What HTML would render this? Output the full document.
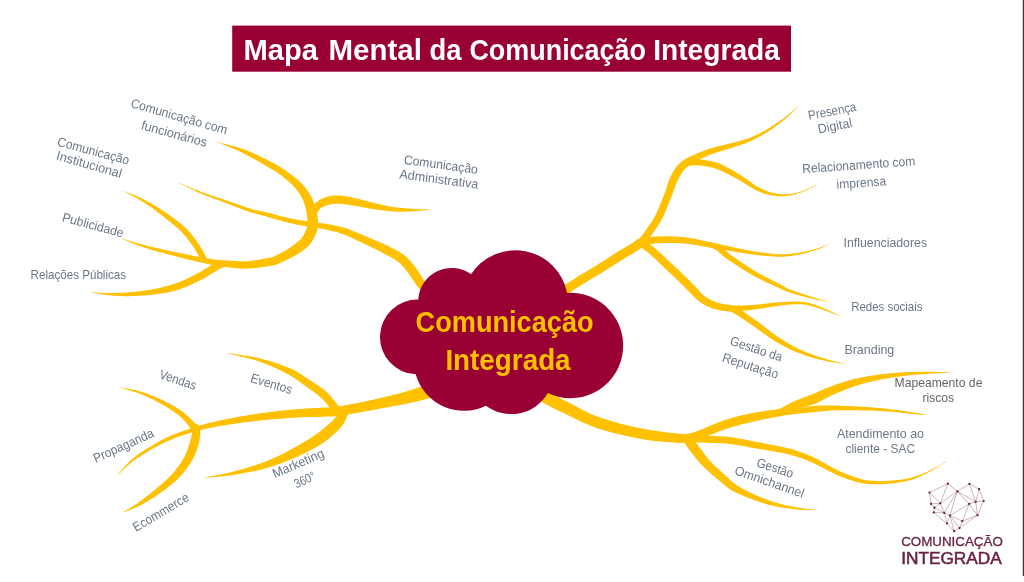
<!DOCTYPE html>
<html lang="pt-BR"><head><meta charset="utf-8"><title>Mapa Mental da Comunicação Integrada</title>
<style>html,body{margin:0;padding:0;background:#fff;overflow:hidden}body{width:1024px;height:582px;position:relative}svg{position:absolute;left:0;top:0;display:block}text{font-family:"Liberation Sans",sans-serif}</style></head><body>
<svg width="1024" height="582" viewBox="0 0 1024 582">
<rect width="1024" height="582" fill="#fff"/>
<g fill="#FFC000">
<path d="M442.8,296.5 L441.4,295.3 L439.9,294.1 L438.3,292.9 L436.8,291.7 L435.3,290.5 L433.8,289.3 L432.3,288.1 L430.9,286.9 L429.6,285.8 L428.3,284.8 L427.3,283.8 L426.3,283.0 L425.6,282.2 L424.9,281.5 L424.4,280.9 L424.0,280.4 L423.6,279.8 L423.3,279.3 L423.0,278.8 L422.6,278.2 L422.2,277.5 L421.7,276.7 L421.2,275.9 L420.6,275.0 L420.0,274.2 L419.4,273.4 L418.8,272.5 L418.2,271.5 L417.6,270.6 L416.9,269.6 L416.2,268.6 L415.5,267.6 L414.8,266.6 L414.1,265.6 L413.3,264.6 L412.5,263.7 L411.8,262.8 L411.1,262.0 L410.3,261.1 L409.6,260.3 L408.8,259.5 L408.0,258.6 L407.2,257.8 L406.3,257.0 L405.4,256.2 L404.4,255.3 L403.4,254.5 L402.3,253.7 L401.2,253.0 L399.9,252.2 L398.7,251.4 L397.4,250.7 L396.1,250.0 L394.8,249.3 L393.5,248.7 L392.2,248.0 L390.9,247.4 L389.8,246.8 L388.6,246.3 L387.6,245.8 L386.6,245.3 L385.6,244.8 L384.8,244.4 L383.9,244.0 L383.1,243.6 L382.3,243.3 L381.5,242.9 L380.7,242.6 L379.8,242.2 L378.9,241.8 L377.9,241.4 L376.9,241.0 L375.7,240.5 L374.5,240.0 L373.3,239.4 L371.9,238.9 L370.6,238.3 L369.2,237.7 L367.8,237.1 L366.4,236.6 L365.0,236.0 L363.6,235.4 L362.3,234.8 L360.9,234.3 L359.6,233.8 L358.3,233.2 L357.0,232.7 L355.7,232.1 L354.4,231.5 L353.1,231.0 L351.7,230.4 L350.4,229.9 L349.0,229.3 L347.7,228.8 L346.3,228.4 L344.9,227.9 L343.5,227.5 L342.1,227.1 L340.7,226.8 L339.3,226.4 L337.8,226.1 L336.4,225.8 L335.1,225.5 L333.7,225.3 L332.4,225.0 L331.1,224.8 L329.9,224.6 L328.8,224.4 L327.7,224.2 L326.8,224.0 L325.9,223.8 L325.1,223.7 L324.3,223.6 L323.5,223.5 L322.7,223.4 L321.9,223.3 L321.0,223.1 L320.0,223.0 L318.9,222.9 L317.7,222.7 L316.3,222.5 L314.8,222.3 L313.1,222.1 L311.4,221.8 L309.6,221.6 L307.8,221.4 L305.9,221.1 L304.1,220.9 L302.3,220.6 L300.5,220.4 L298.9,220.1 L297.3,219.8 L295.9,219.6 L294.5,219.3 L293.2,219.0 L291.9,218.8 L290.6,218.5 L289.4,218.2 L288.1,217.9 L286.9,217.6 L285.7,217.3 L284.4,217.0 L283.1,216.7 L281.9,216.4 L280.5,216.0 L279.3,215.7 L277.9,215.4 L276.6,215.0 L275.3,214.7 L274.0,214.3 L272.7,214.0 L271.4,213.6 L270.1,213.3 L268.7,212.9 L267.4,212.6 L266.1,212.3 L264.8,212.0 L263.5,211.7 L262.3,211.4 L261.1,211.2 L259.9,211.0 L258.8,210.7 L257.5,210.5 L256.3,210.2 L255.0,209.9 L253.6,209.5 L252.1,209.1 L250.5,208.7 L248.8,208.2 L247.0,207.6 L245.1,206.9 L243.1,206.3 L241.0,205.5 L238.9,204.8 L236.7,204.1 L234.6,203.3 L232.4,202.5 L230.2,201.8 L228.1,201.0 L225.9,200.3 L223.8,199.6 L221.7,198.8 L219.5,198.1 L217.3,197.4 L215.1,196.7 L212.9,195.9 L210.7,195.2 L208.5,194.5 L206.4,193.7 L204.3,193.0 L202.3,192.3 L200.3,191.6 L198.4,190.8 L196.6,190.1 L194.8,189.4 L193.0,188.7 L191.3,187.9 L189.6,187.2 L188.0,186.5 L186.3,185.8 L184.6,185.0 L183.0,184.3 L181.3,183.6 L179.6,182.9 L179.4,183.1 L181.1,184.0 L182.7,184.8 L184.4,185.6 L186.0,186.4 L187.6,187.3 L189.2,188.1 L190.9,188.9 L192.6,189.7 L194.3,190.6 L196.0,191.4 L197.8,192.2 L199.7,193.0 L201.6,193.9 L203.7,194.7 L205.7,195.5 L207.8,196.3 L210.0,197.1 L212.1,197.9 L214.3,198.7 L216.5,199.5 L218.7,200.3 L220.8,201.1 L223.0,201.9 L225.1,202.7 L227.1,203.5 L229.3,204.3 L231.4,205.2 L233.6,206.0 L235.7,206.8 L237.8,207.7 L239.9,208.5 L242.0,209.2 L244.0,210.0 L245.9,210.7 L247.7,211.3 L249.5,211.9 L251.1,212.5 L252.6,212.9 L254.1,213.3 L255.4,213.7 L256.7,214.0 L257.9,214.3 L259.1,214.6 L260.3,214.9 L261.5,215.2 L262.7,215.5 L263.9,215.8 L265.1,216.1 L266.4,216.5 L267.7,216.9 L269.0,217.2 L270.3,217.6 L271.6,218.0 L272.9,218.4 L274.2,218.8 L275.5,219.2 L276.8,219.5 L278.1,219.9 L279.4,220.3 L280.7,220.6 L282.0,221.0 L283.3,221.3 L284.5,221.7 L285.8,222.0 L287.0,222.3 L288.3,222.7 L289.5,223.0 L290.8,223.3 L292.2,223.6 L293.5,223.9 L295.0,224.2 L296.5,224.6 L298.0,224.9 L299.7,225.2 L301.5,225.5 L303.3,225.8 L305.2,226.1 L307.0,226.4 L308.9,226.6 L310.7,226.9 L312.4,227.2 L314.0,227.4 L315.5,227.7 L316.9,227.9 L318.1,228.1 L319.2,228.3 L320.2,228.5 L321.0,228.6 L321.8,228.8 L322.6,228.9 L323.3,229.1 L324.1,229.2 L324.8,229.4 L325.7,229.6 L326.6,229.8 L327.6,230.0 L328.7,230.3 L329.9,230.6 L331.2,230.9 L332.5,231.2 L333.8,231.5 L335.1,231.8 L336.4,232.1 L337.7,232.5 L339.1,232.9 L340.4,233.3 L341.6,233.7 L342.9,234.1 L344.1,234.5 L345.3,235.0 L346.6,235.5 L347.8,236.1 L349.1,236.6 L350.3,237.2 L351.6,237.8 L352.9,238.4 L354.1,239.1 L355.4,239.7 L356.7,240.3 L358.1,240.9 L359.4,241.5 L360.7,242.1 L362.1,242.8 L363.4,243.4 L364.8,244.0 L366.1,244.7 L367.5,245.3 L368.8,245.9 L370.0,246.5 L371.3,247.1 L372.4,247.7 L373.5,248.2 L374.6,248.7 L375.5,249.2 L376.4,249.6 L377.2,250.0 L378.0,250.4 L378.7,250.8 L379.5,251.2 L380.2,251.6 L381.0,252.0 L381.8,252.4 L382.7,252.9 L383.6,253.4 L384.7,254.0 L385.8,254.6 L387.0,255.2 L388.2,255.8 L389.4,256.5 L390.7,257.1 L391.9,257.8 L393.0,258.5 L394.2,259.1 L395.2,259.8 L396.2,260.4 L397.1,261.1 L397.9,261.7 L398.7,262.3 L399.5,263.0 L400.2,263.6 L400.9,264.3 L401.6,265.0 L402.3,265.7 L402.9,266.4 L403.6,267.1 L404.3,267.9 L405.0,268.7 L405.7,269.5 L406.3,270.3 L406.9,271.1 L407.6,271.9 L408.2,272.8 L408.8,273.7 L409.5,274.7 L410.1,275.6 L410.7,276.5 L411.4,277.5 L412.0,278.4 L412.6,279.3 L413.2,280.2 L413.7,280.9 L414.1,281.5 L414.5,282.1 L414.8,282.7 L415.2,283.4 L415.7,284.1 L416.2,284.9 L416.8,285.7 L417.4,286.6 L418.2,287.5 L419.1,288.4 L420.1,289.4 L421.2,290.5 L422.4,291.6 L423.8,292.7 L425.2,293.9 L426.6,295.1 L428.1,296.3 L429.7,297.5 L431.2,298.7 L432.8,300.0 L434.3,301.2 L435.7,302.3 L437.2,303.5Z"/>
<path d="M217.6,142.2 L219.2,142.9 L220.9,143.6 L222.7,144.3 L224.4,145.0 L226.1,145.7 L227.9,146.4 L229.6,147.1 L231.2,147.8 L232.8,148.4 L234.4,149.1 L235.8,149.7 L237.2,150.3 L238.4,150.9 L239.6,151.4 L240.6,151.9 L241.6,152.4 L242.5,152.8 L243.3,153.3 L244.2,153.7 L245.1,154.2 L246.0,154.7 L246.9,155.2 L247.9,155.7 L249.0,156.3 L250.2,156.9 L251.4,157.6 L252.6,158.3 L253.8,158.9 L255.1,159.6 L256.4,160.3 L257.7,161.1 L259.0,161.8 L260.3,162.6 L261.6,163.3 L262.9,164.1 L264.2,164.8 L265.5,165.6 L266.9,166.4 L268.2,167.2 L269.6,167.9 L270.9,168.7 L272.2,169.5 L273.6,170.3 L274.9,171.1 L276.2,172.0 L277.5,172.8 L278.8,173.7 L280.1,174.7 L281.4,175.6 L282.8,176.7 L284.1,177.8 L285.5,178.9 L286.9,180.0 L288.2,181.2 L289.5,182.3 L290.8,183.5 L292.0,184.6 L293.1,185.8 L294.2,186.9 L295.2,188.0 L296.1,189.0 L296.9,190.1 L297.7,191.2 L298.5,192.2 L299.2,193.3 L299.9,194.3 L300.5,195.4 L301.1,196.5 L301.7,197.5 L302.2,198.6 L302.8,199.7 L303.3,200.8 L303.7,201.8 L304.1,202.9 L304.5,204.0 L304.8,205.2 L305.2,206.3 L305.5,207.4 L305.7,208.6 L306.0,209.7 L306.2,210.9 L306.4,212.0 L306.6,213.1 L306.8,214.2 L307.0,215.2 L307.1,216.2 L307.2,217.2 L307.3,218.2 L307.4,219.2 L307.4,220.1 L307.4,221.1 L307.5,222.0 L307.5,222.9 L307.4,223.7 L307.4,224.5 L307.3,225.2 L307.2,225.9 L307.2,226.4 L307.0,226.9 L306.9,227.4 L306.8,227.9 L306.6,228.4 L306.5,228.9 L306.3,229.4 L306.0,229.9 L305.8,230.5 L305.5,231.1 L305.2,231.7 L304.9,232.4 L304.6,233.0 L304.3,233.6 L304.0,234.2 L303.7,234.8 L303.4,235.4 L303.0,235.9 L302.7,236.5 L302.3,237.0 L302.0,237.5 L301.6,238.1 L301.2,238.6 L300.7,239.0 L300.2,239.6 L299.7,240.1 L299.1,240.6 L298.5,241.2 L297.9,241.7 L297.2,242.3 L296.5,242.8 L295.8,243.4 L295.1,243.9 L294.4,244.5 L293.7,245.0 L293.0,245.5 L292.3,246.0 L291.6,246.5 L290.9,247.0 L290.2,247.5 L289.5,248.0 L288.8,248.5 L288.0,248.9 L287.3,249.4 L286.6,249.8 L285.9,250.3 L285.2,250.7 L284.6,251.1 L283.9,251.4 L283.3,251.8 L282.7,252.1 L282.0,252.5 L281.4,252.8 L280.8,253.1 L280.2,253.4 L279.6,253.7 L279.0,254.0 L278.4,254.3 L277.7,254.6 L277.0,254.9 L276.4,255.3 L275.8,255.6 L275.4,255.8 L275.0,256.0 L274.7,256.2 L274.4,256.4 L274.0,256.5 L273.5,256.7 L272.8,256.9 L272.0,257.2 L270.9,257.4 L269.5,257.7 L267.9,258.1 L266.1,258.4 L264.1,258.8 L262.0,259.1 L259.9,259.5 L257.7,259.9 L255.5,260.2 L253.4,260.5 L251.4,260.8 L249.6,261.0 L247.9,261.2 L246.5,261.3 L245.1,261.3 L243.8,261.4 L242.5,261.4 L241.3,261.3 L240.2,261.3 L239.0,261.2 L237.8,261.1 L236.6,261.0 L235.4,261.0 L234.2,260.9 L232.8,260.8 L231.5,260.8 L230.2,260.7 L228.9,260.6 L227.6,260.6 L226.3,260.5 L225.1,260.4 L223.8,260.4 L222.5,260.3 L221.2,260.2 L219.9,260.1 L218.6,260.0 L217.3,259.8 L216.0,259.7 L214.7,259.5 L213.5,259.4 L212.2,259.2 L210.9,259.0 L209.6,258.8 L208.3,258.6 L207.0,258.4 L205.7,258.2 L204.4,258.0 L203.1,257.8 L201.8,257.5 L200.5,257.3 L199.2,257.1 L197.9,256.8 L196.6,256.5 L195.3,256.2 L194.0,256.0 L192.7,255.7 L191.4,255.4 L190.0,255.1 L188.7,254.8 L187.4,254.5 L186.1,254.3 L184.8,254.0 L183.5,253.7 L182.3,253.5 L181.0,253.2 L179.8,253.0 L178.5,252.7 L177.2,252.5 L175.9,252.2 L174.6,251.9 L173.3,251.6 L171.9,251.4 L170.4,251.1 L168.9,250.7 L167.4,250.4 L165.7,250.0 L164.1,249.7 L162.4,249.3 L160.7,249.0 L159.0,248.6 L157.3,248.2 L155.6,247.8 L154.0,247.5 L152.5,247.1 L151.0,246.7 L149.5,246.4 L148.1,246.0 L146.7,245.7 L145.4,245.3 L144.1,245.0 L142.8,244.6 L141.5,244.3 L140.2,243.9 L139.0,243.6 L137.7,243.2 L136.5,242.9 L135.3,242.5 L134.0,242.2 L132.9,241.8 L131.7,241.5 L130.5,241.1 L129.4,240.8 L128.3,240.4 L127.2,240.1 L126.1,239.7 L124.9,239.3 L123.8,239.0 L122.7,238.6 L121.6,238.3 L121.4,238.5 L122.5,239.0 L123.6,239.5 L124.7,239.9 L125.8,240.4 L126.9,240.8 L128.0,241.3 L129.0,241.8 L130.1,242.2 L131.3,242.7 L132.4,243.1 L133.6,243.6 L134.7,244.1 L135.9,244.5 L137.2,245.0 L138.4,245.4 L139.6,245.9 L140.8,246.3 L142.1,246.8 L143.4,247.2 L144.7,247.7 L146.0,248.1 L147.4,248.6 L148.8,249.0 L150.2,249.5 L151.7,249.9 L153.3,250.4 L154.9,250.8 L156.5,251.3 L158.2,251.7 L159.9,252.2 L161.6,252.6 L163.3,253.1 L164.9,253.5 L166.5,253.9 L168.1,254.4 L169.6,254.7 L171.0,255.1 L172.4,255.5 L173.7,255.8 L175.0,256.2 L176.3,256.5 L177.6,256.8 L178.8,257.2 L180.0,257.5 L181.3,257.8 L182.5,258.1 L183.8,258.4 L185.1,258.7 L186.4,259.1 L187.7,259.4 L189.0,259.7 L190.3,260.0 L191.6,260.3 L192.9,260.6 L194.2,260.9 L195.5,261.3 L196.9,261.6 L198.2,261.9 L199.5,262.2 L200.8,262.5 L202.1,262.7 L203.4,263.0 L204.7,263.3 L206.0,263.6 L207.3,263.9 L208.6,264.2 L209.9,264.5 L211.2,264.8 L212.5,265.0 L213.8,265.3 L215.2,265.5 L216.5,265.8 L217.8,266.0 L219.1,266.2 L220.5,266.4 L221.8,266.6 L223.1,266.8 L224.4,266.9 L225.8,267.1 L227.1,267.3 L228.4,267.4 L229.7,267.5 L231.1,267.7 L232.4,267.8 L233.6,267.9 L234.8,268.0 L236.0,268.2 L237.2,268.3 L238.4,268.4 L239.7,268.5 L241.0,268.6 L242.3,268.7 L243.7,268.7 L245.2,268.7 L246.8,268.7 L248.5,268.6 L250.3,268.5 L252.3,268.3 L254.4,268.1 L256.5,267.9 L258.8,267.6 L261.0,267.3 L263.2,267.0 L265.4,266.7 L267.4,266.4 L269.3,266.1 L271.0,265.8 L272.5,265.6 L273.8,265.3 L275.0,265.0 L276.0,264.8 L276.9,264.5 L277.7,264.2 L278.4,263.8 L279.0,263.5 L279.6,263.3 L280.0,263.0 L280.4,262.8 L280.8,262.6 L281.3,262.4 L281.9,262.2 L282.6,261.9 L283.3,261.6 L283.9,261.3 L284.6,261.0 L285.3,260.7 L286.0,260.3 L286.7,260.0 L287.4,259.6 L288.1,259.3 L288.8,258.9 L289.6,258.5 L290.3,258.1 L291.1,257.7 L291.9,257.3 L292.7,256.9 L293.5,256.5 L294.3,256.0 L295.2,255.5 L296.0,255.1 L296.9,254.6 L297.7,254.1 L298.5,253.5 L299.3,253.0 L300.1,252.5 L300.9,251.9 L301.7,251.4 L302.5,250.8 L303.3,250.2 L304.1,249.6 L305.0,249.0 L305.8,248.3 L306.6,247.6 L307.3,246.9 L308.1,246.2 L308.8,245.4 L309.5,244.7 L310.2,243.9 L310.8,243.1 L311.3,242.3 L311.9,241.6 L312.4,240.8 L312.8,240.0 L313.3,239.2 L313.7,238.5 L314.1,237.7 L314.5,237.0 L314.8,236.3 L315.1,235.6 L315.4,234.9 L315.8,234.2 L316.1,233.5 L316.4,232.7 L316.7,231.9 L317.0,231.0 L317.2,230.1 L317.4,229.2 L317.6,228.2 L317.8,227.2 L317.9,226.2 L317.9,225.1 L318.0,224.1 L318.0,223.0 L318.0,221.8 L317.9,220.7 L317.9,219.5 L317.8,218.3 L317.6,217.1 L317.5,215.9 L317.3,214.7 L317.1,213.4 L316.8,212.2 L316.5,211.0 L316.2,209.8 L315.9,208.6 L315.5,207.3 L315.1,206.0 L314.7,204.7 L314.2,203.4 L313.7,202.1 L313.2,200.7 L312.6,199.4 L312.0,198.1 L311.3,196.8 L310.7,195.6 L310.0,194.4 L309.2,193.2 L308.5,192.0 L307.7,190.8 L306.9,189.6 L306.0,188.4 L305.0,187.3 L304.1,186.1 L303.0,184.9 L302.0,183.8 L300.8,182.6 L299.6,181.5 L298.3,180.3 L297.0,179.1 L295.6,177.9 L294.2,176.8 L292.7,175.7 L291.2,174.5 L289.7,173.4 L288.2,172.4 L286.8,171.3 L285.3,170.3 L283.9,169.3 L282.4,168.4 L281.0,167.5 L279.6,166.6 L278.1,165.8 L276.7,164.9 L275.3,164.1 L273.9,163.4 L272.5,162.6 L271.1,161.9 L269.7,161.2 L268.4,160.5 L267.0,159.8 L265.6,159.1 L264.2,158.4 L262.9,157.7 L261.5,157.0 L260.1,156.4 L258.7,155.7 L257.4,155.1 L256.0,154.5 L254.7,153.9 L253.4,153.3 L252.2,152.8 L251.0,152.3 L249.8,151.8 L248.8,151.3 L247.8,150.9 L246.8,150.5 L245.9,150.1 L244.9,149.8 L244.0,149.4 L243.0,149.1 L241.9,148.7 L240.8,148.3 L239.6,147.9 L238.2,147.5 L236.8,147.1 L235.2,146.6 L233.6,146.2 L231.9,145.7 L230.2,145.2 L228.4,144.8 L226.6,144.3 L224.8,143.8 L223.0,143.4 L221.2,142.9 L219.4,142.4 L217.6,142.0Z"/>
<path d="M316.2,215.5 L316.3,215.1 L316.5,214.8 L316.6,214.4 L316.8,214.1 L316.9,213.8 L317.0,213.5 L317.1,213.3 L317.2,213.0 L317.4,212.8 L317.5,212.5 L317.6,212.3 L317.9,212.0 L318.1,211.5 L318.4,211.1 L318.7,210.7 L318.9,210.3 L319.2,209.9 L319.4,209.6 L319.7,209.3 L319.9,209.0 L320.2,208.7 L320.4,208.5 L320.7,208.3 L321.1,208.0 L321.6,207.7 L322.1,207.4 L322.7,207.1 L323.4,206.8 L324.0,206.5 L324.7,206.1 L325.4,205.8 L326.2,205.6 L326.9,205.3 L327.7,205.1 L328.4,204.9 L329.2,204.7 L330.0,204.5 L330.8,204.3 L331.7,204.2 L332.5,204.1 L333.4,204.0 L334.3,203.9 L335.2,203.8 L336.2,203.8 L337.2,203.8 L338.2,203.8 L339.3,203.8 L340.5,203.8 L341.7,203.9 L343.1,204.1 L344.5,204.2 L346.0,204.5 L347.6,204.7 L349.2,204.9 L350.9,205.2 L352.5,205.5 L354.1,205.8 L355.7,206.1 L357.3,206.3 L358.8,206.6 L360.2,206.8 L361.6,207.0 L362.9,207.3 L364.2,207.5 L365.5,207.8 L366.8,208.0 L368.1,208.2 L369.4,208.5 L370.7,208.7 L372.0,208.9 L373.3,209.1 L374.6,209.3 L376.0,209.5 L377.3,209.7 L378.7,209.9 L380.1,210.1 L381.5,210.3 L382.9,210.5 L384.3,210.6 L385.6,210.8 L386.9,210.9 L388.1,211.1 L389.4,211.2 L390.5,211.3 L391.6,211.4 L392.5,211.5 L393.4,211.5 L394.3,211.6 L395.1,211.6 L395.9,211.7 L396.7,211.7 L397.5,211.7 L398.3,211.7 L399.2,211.7 L400.2,211.7 L401.2,211.7 L402.4,211.7 L403.6,211.7 L404.8,211.6 L406.2,211.6 L407.5,211.6 L408.9,211.5 L410.3,211.5 L411.7,211.4 L413.1,211.3 L414.4,211.2 L415.7,211.2 L417.0,211.0 L418.3,210.9 L419.5,210.8 L420.7,210.7 L421.8,210.5 L423.0,210.3 L424.2,210.2 L425.3,210.0 L426.4,209.8 L427.6,209.7 L428.7,209.5 L429.9,209.3 L431.0,209.1 L431.0,208.9 L429.8,208.9 L428.7,208.9 L427.5,209.0 L426.4,209.0 L425.2,209.1 L424.1,209.1 L422.9,209.1 L421.7,209.2 L420.6,209.2 L419.4,209.2 L418.2,209.2 L417.0,209.2 L415.7,209.1 L414.4,209.0 L413.1,208.9 L411.7,208.8 L410.3,208.7 L409.0,208.6 L407.6,208.5 L406.3,208.4 L405.0,208.2 L403.7,208.1 L402.5,208.0 L401.4,207.9 L400.3,207.8 L399.4,207.7 L398.5,207.6 L397.7,207.6 L396.9,207.5 L396.2,207.4 L395.4,207.4 L394.7,207.3 L393.9,207.2 L393.0,207.0 L392.1,206.9 L391.1,206.7 L390.0,206.5 L388.8,206.3 L387.6,206.1 L386.4,205.8 L385.1,205.5 L383.8,205.3 L382.4,205.0 L381.1,204.7 L379.7,204.4 L378.4,204.1 L377.1,203.8 L375.8,203.5 L374.5,203.1 L373.3,202.8 L372.0,202.5 L370.8,202.2 L369.5,201.8 L368.3,201.5 L367.0,201.1 L365.7,200.8 L364.4,200.4 L363.0,200.1 L361.6,199.8 L360.2,199.4 L358.8,199.1 L357.2,198.7 L355.7,198.3 L354.0,198.0 L352.4,197.6 L350.7,197.2 L349.0,196.8 L347.4,196.5 L345.7,196.2 L344.1,195.9 L342.6,195.7 L341.1,195.6 L339.7,195.5 L338.4,195.4 L337.1,195.4 L335.9,195.4 L334.7,195.5 L333.5,195.6 L332.4,195.7 L331.3,195.8 L330.3,196.0 L329.2,196.2 L328.2,196.5 L327.2,196.7 L326.2,197.0 L325.1,197.4 L324.1,197.7 L323.1,198.2 L322.2,198.6 L321.3,199.0 L320.4,199.5 L319.6,200.0 L318.8,200.5 L318.1,201.0 L317.4,201.5 L316.7,202.0 L316.0,202.5 L315.4,203.1 L314.8,203.7 L314.3,204.4 L313.8,205.0 L313.5,205.6 L313.1,206.1 L312.8,206.6 L312.6,207.1 L312.3,207.5 L312.1,207.9 L311.9,208.2 L311.7,208.7 L311.4,209.1 L311.2,209.5 L311.0,210.0 L310.8,210.4 L310.6,210.7 L310.5,211.1 L310.3,211.4 L310.2,211.7 L310.1,212.0 L310.0,212.2 L309.8,212.5Z"/>
<path d="M124.1,191.4 L125.2,192.0 L126.2,192.5 L127.2,193.1 L128.3,193.6 L129.3,194.1 L130.3,194.7 L131.4,195.2 L132.4,195.8 L133.4,196.3 L134.5,196.9 L135.5,197.5 L136.6,198.1 L137.7,198.7 L138.8,199.4 L139.9,200.0 L141.0,200.7 L142.1,201.4 L143.2,202.1 L144.3,202.8 L145.4,203.5 L146.5,204.2 L147.6,204.9 L148.7,205.6 L149.8,206.4 L150.8,207.1 L151.8,207.8 L152.9,208.6 L153.9,209.3 L154.9,210.1 L155.9,210.8 L156.9,211.6 L157.9,212.4 L158.9,213.1 L159.9,213.9 L160.8,214.6 L161.7,215.3 L162.6,216.0 L163.5,216.6 L164.3,217.3 L165.1,217.9 L165.9,218.5 L166.6,219.1 L167.4,219.8 L168.2,220.4 L168.9,221.0 L169.7,221.7 L170.5,222.3 L171.4,223.0 L172.3,223.8 L173.1,224.5 L174.1,225.3 L175.0,226.0 L175.9,226.8 L176.8,227.6 L177.7,228.3 L178.6,229.1 L179.5,229.9 L180.3,230.7 L181.1,231.5 L181.9,232.3 L182.7,233.2 L183.5,234.0 L184.3,234.9 L185.1,235.9 L185.8,236.8 L186.6,237.7 L187.3,238.7 L188.1,239.6 L188.8,240.6 L189.5,241.5 L190.1,242.4 L190.8,243.3 L191.4,244.1 L192.0,244.9 L192.6,245.8 L193.1,246.6 L193.6,247.3 L194.2,248.1 L194.7,248.9 L195.1,249.6 L195.6,250.4 L196.1,251.1 L196.5,251.8 L196.9,252.5 L197.3,253.2 L197.7,253.9 L198.1,254.6 L198.4,255.2 L198.8,255.9 L199.1,256.6 L199.5,257.2 L199.8,257.8 L200.1,258.4 L200.3,258.9 L200.6,259.5 L200.9,259.9 L201.1,260.3 L201.3,260.7 L201.5,261.0 L201.6,261.2 L201.7,261.5 L201.9,261.7 L202.0,261.8 L202.1,262.0 L202.2,262.1 L202.2,262.2 L202.3,262.4 L202.4,262.6 L207.6,259.4 L207.4,259.2 L207.3,259.0 L207.2,258.9 L207.1,258.7 L207.0,258.6 L206.9,258.5 L206.9,258.3 L206.8,258.2 L206.6,258.0 L206.5,257.7 L206.3,257.4 L206.1,257.1 L205.9,256.7 L205.7,256.2 L205.4,255.7 L205.1,255.1 L204.8,254.5 L204.5,253.8 L204.1,253.1 L203.7,252.4 L203.4,251.7 L202.9,251.0 L202.5,250.2 L202.1,249.5 L201.6,248.7 L201.2,248.0 L200.7,247.2 L200.2,246.4 L199.7,245.6 L199.2,244.8 L198.7,244.0 L198.1,243.2 L197.5,242.3 L196.9,241.5 L196.3,240.6 L195.6,239.7 L194.9,238.8 L194.2,237.9 L193.5,237.0 L192.8,236.0 L192.0,235.0 L191.2,234.0 L190.4,233.0 L189.6,232.1 L188.7,231.1 L187.8,230.1 L187.0,229.2 L186.1,228.3 L185.1,227.4 L184.2,226.5 L183.2,225.7 L182.3,224.9 L181.3,224.1 L180.3,223.3 L179.3,222.5 L178.3,221.8 L177.4,221.0 L176.4,220.3 L175.5,219.6 L174.6,219.0 L173.7,218.3 L172.9,217.7 L172.0,217.0 L171.2,216.4 L170.4,215.8 L169.5,215.3 L168.7,214.7 L167.9,214.1 L167.0,213.5 L166.1,212.9 L165.2,212.3 L164.3,211.7 L163.3,211.1 L162.3,210.4 L161.3,209.7 L160.3,209.1 L159.2,208.4 L158.1,207.7 L157.0,207.0 L155.9,206.3 L154.8,205.6 L153.7,205.0 L152.6,204.3 L151.4,203.6 L150.3,203.0 L149.2,202.4 L148.0,201.7 L146.8,201.1 L145.6,200.5 L144.4,199.9 L143.3,199.3 L142.1,198.7 L140.9,198.1 L139.7,197.6 L138.6,197.0 L137.4,196.5 L136.3,196.0 L135.2,195.5 L134.1,195.0 L133.0,194.6 L131.9,194.1 L130.8,193.7 L129.7,193.3 L128.6,192.9 L127.5,192.5 L126.4,192.0 L125.4,191.6 L124.3,191.2Z"/>
<path d="M223.6,260.5 L223.5,260.5 L223.5,260.5 L223.5,260.5 L223.3,260.5 L223.0,260.4 L222.5,260.4 L222.0,260.4 L221.3,260.5 L220.6,260.6 L219.9,260.8 L219.2,261.0 L218.5,261.3 L217.7,261.7 L216.8,262.1 L215.9,262.6 L214.9,263.2 L213.9,263.7 L212.9,264.3 L211.9,264.9 L210.8,265.5 L209.8,266.1 L208.9,266.7 L208.0,267.2 L207.2,267.7 L206.4,268.1 L205.7,268.6 L205.1,268.9 L204.5,269.3 L204.0,269.7 L203.5,270.0 L202.9,270.3 L202.4,270.7 L201.8,271.0 L201.2,271.4 L200.4,271.8 L199.6,272.3 L198.5,272.8 L197.4,273.4 L196.2,274.1 L195.0,274.7 L193.7,275.4 L192.3,276.1 L191.0,276.8 L189.6,277.5 L188.2,278.2 L186.8,278.8 L185.5,279.4 L184.2,280.0 L183.0,280.5 L181.7,281.0 L180.5,281.5 L179.3,282.0 L178.1,282.5 L176.9,282.9 L175.7,283.3 L174.4,283.8 L173.2,284.2 L171.9,284.6 L170.5,285.0 L169.2,285.4 L167.7,285.8 L166.3,286.2 L164.9,286.6 L163.4,287.0 L161.9,287.4 L160.3,287.7 L158.8,288.1 L157.1,288.4 L155.5,288.8 L153.8,289.1 L152.1,289.4 L150.3,289.7 L148.4,290.0 L146.4,290.3 L144.4,290.6 L142.3,290.9 L140.1,291.2 L137.9,291.4 L135.8,291.7 L133.6,291.9 L131.5,292.1 L129.4,292.3 L127.4,292.5 L125.4,292.6 L123.6,292.7 L121.7,292.8 L119.9,292.9 L118.1,292.9 L116.3,293.0 L114.6,293.0 L112.9,293.0 L111.2,293.0 L109.6,293.0 L108.0,292.9 L106.5,292.9 L105.1,292.9 L103.7,292.9 L102.4,292.8 L101.2,292.8 L100.1,292.7 L99.0,292.6 L97.9,292.6 L96.9,292.5 L95.9,292.4 L94.8,292.3 L93.8,292.2 L92.7,292.1 L91.6,292.1 L91.6,292.3 L92.7,292.5 L93.7,292.7 L94.7,293.0 L95.7,293.2 L96.8,293.4 L97.8,293.6 L98.8,293.8 L99.9,294.0 L101.1,294.2 L102.3,294.4 L103.6,294.5 L104.9,294.7 L106.4,294.9 L107.9,295.0 L109.5,295.2 L111.1,295.4 L112.7,295.5 L114.5,295.7 L116.2,295.8 L118.0,295.9 L119.9,296.0 L121.7,296.1 L123.6,296.2 L125.6,296.2 L127.5,296.2 L129.6,296.2 L131.7,296.1 L133.9,296.0 L136.1,295.9 L138.3,295.8 L140.5,295.7 L142.7,295.6 L144.9,295.4 L147.0,295.2 L149.0,295.1 L150.9,294.9 L152.8,294.7 L154.6,294.5 L156.4,294.3 L158.1,294.1 L159.8,293.8 L161.5,293.6 L163.1,293.3 L164.7,293.1 L166.2,292.8 L167.8,292.5 L169.3,292.1 L170.8,291.8 L172.3,291.4 L173.8,291.1 L175.2,290.7 L176.5,290.2 L177.9,289.8 L179.2,289.4 L180.5,288.9 L181.8,288.4 L183.0,288.0 L184.3,287.5 L185.6,287.0 L187.0,286.4 L188.3,285.9 L189.8,285.3 L191.2,284.6 L192.7,284.0 L194.1,283.3 L195.5,282.6 L197.0,281.9 L198.3,281.3 L199.6,280.6 L200.8,280.0 L202.0,279.5 L203.0,278.9 L204.0,278.4 L204.9,277.9 L205.6,277.5 L206.3,277.1 L207.0,276.7 L207.5,276.3 L208.1,276.0 L208.6,275.6 L209.1,275.3 L209.7,274.9 L210.3,274.5 L211.0,274.1 L211.8,273.6 L212.7,273.1 L213.7,272.5 L214.7,271.9 L215.7,271.3 L216.7,270.7 L217.6,270.1 L218.6,269.5 L219.5,269.0 L220.3,268.5 L221.0,268.1 L221.5,267.9 L221.9,267.7 L222.2,267.6 L222.3,267.5 L222.4,267.5 L222.4,267.5 L222.3,267.5 L222.4,267.5 L222.5,267.5 L222.8,267.5 L223.3,267.5 L223.9,267.5 L224.4,267.5Z"/>
<path d="M558.4,299.8 L560.4,298.5 L562.5,297.2 L564.5,295.9 L566.6,294.5 L568.6,293.2 L570.7,291.9 L572.7,290.6 L574.7,289.3 L576.7,288.0 L578.6,286.8 L580.5,285.6 L582.4,284.4 L584.2,283.3 L585.9,282.2 L587.6,281.2 L589.3,280.2 L590.9,279.2 L592.6,278.2 L594.2,277.3 L595.8,276.3 L597.4,275.3 L599.0,274.4 L600.7,273.4 L602.4,272.3 L604.1,271.3 L605.8,270.2 L607.6,269.1 L609.4,267.9 L611.2,266.8 L612.9,265.7 L614.7,264.6 L616.4,263.5 L618.0,262.5 L619.6,261.5 L621.0,260.6 L622.4,259.7 L623.7,258.9 L624.9,258.2 L626.1,257.5 L627.2,256.8 L628.2,256.2 L629.2,255.6 L630.2,255.1 L631.2,254.5 L632.1,253.9 L633.1,253.4 L634.0,252.8 L634.9,252.2 L635.9,251.6 L636.8,251.0 L637.7,250.5 L638.6,249.9 L639.4,249.3 L640.3,248.8 L641.1,248.2 L641.9,247.7 L642.7,247.1 L643.4,246.6 L644.1,246.1 L644.7,245.6 L645.3,245.1 L645.9,244.6 L646.4,244.1 L646.8,243.6 L647.2,243.1 L647.5,242.7 L647.8,242.3 L648.0,242.0 L648.3,241.7 L648.4,241.4 L648.6,241.1 L648.9,240.8 L643.1,235.2 L642.7,235.6 L642.4,235.9 L642.0,236.2 L641.7,236.5 L641.4,236.8 L641.2,237.0 L640.9,237.2 L640.7,237.4 L640.4,237.6 L640.1,237.8 L639.7,238.1 L639.3,238.4 L638.7,238.8 L638.1,239.2 L637.5,239.6 L636.8,240.1 L636.0,240.6 L635.3,241.1 L634.5,241.6 L633.6,242.2 L632.7,242.7 L631.9,243.3 L631.0,243.8 L630.1,244.4 L629.2,244.9 L628.3,245.5 L627.4,246.0 L626.5,246.5 L625.5,247.1 L624.6,247.7 L623.6,248.3 L622.5,248.9 L621.4,249.6 L620.2,250.3 L618.9,251.1 L617.6,251.9 L616.2,252.8 L614.6,253.7 L613.1,254.8 L611.4,255.8 L609.7,256.9 L608.0,258.0 L606.3,259.2 L604.5,260.3 L602.8,261.4 L601.0,262.5 L599.3,263.6 L597.6,264.7 L596.0,265.7 L594.4,266.7 L592.8,267.6 L591.2,268.6 L589.6,269.6 L587.9,270.5 L586.3,271.5 L584.6,272.5 L583.0,273.5 L581.2,274.6 L579.4,275.6 L577.6,276.8 L575.7,278.0 L573.8,279.2 L571.9,280.4 L569.9,281.7 L567.8,283.0 L565.8,284.3 L563.8,285.6 L561.7,287.0 L559.7,288.3 L557.6,289.6 L555.6,290.9 L553.6,292.2Z"/>
<path d="M643.2,247.3 L643.4,247.1 L643.6,246.8 L643.7,246.6 L643.9,246.4 L644.0,246.2 L644.2,245.9 L644.4,245.7 L644.6,245.4 L644.8,245.0 L645.1,244.6 L645.4,244.2 L645.8,243.6 L646.2,243.0 L646.6,242.4 L647.1,241.7 L647.7,240.9 L648.2,240.1 L648.8,239.2 L649.4,238.3 L650.0,237.4 L650.6,236.5 L651.3,235.5 L652.0,234.5 L652.6,233.5 L653.3,232.5 L654.0,231.5 L654.7,230.4 L655.5,229.3 L656.3,228.2 L657.1,227.0 L657.9,225.8 L658.7,224.6 L659.5,223.3 L660.3,222.0 L661.1,220.6 L661.8,219.3 L662.6,217.8 L663.3,216.3 L664.0,214.8 L664.7,213.2 L665.4,211.6 L666.1,210.0 L666.7,208.4 L667.4,206.8 L668.0,205.3 L668.5,203.9 L669.1,202.6 L669.6,201.4 L670.0,200.3 L670.4,199.3 L670.8,198.3 L671.2,197.4 L671.5,196.6 L671.8,195.8 L672.0,195.1 L672.3,194.3 L672.6,193.6 L672.8,192.9 L673.1,192.1 L673.4,191.3 L673.7,190.4 L674.1,189.6 L674.4,188.7 L674.7,187.8 L675.0,187.0 L675.3,186.2 L675.6,185.4 L675.9,184.5 L676.2,183.8 L676.5,183.0 L676.8,182.2 L677.2,181.4 L677.6,180.6 L678.1,179.7 L678.5,178.8 L679.0,177.9 L679.5,177.0 L680.0,176.1 L680.5,175.2 L681.0,174.4 L681.5,173.6 L682.0,172.8 L682.5,172.1 L683.0,171.4 L683.4,170.8 L683.9,170.2 L684.4,169.7 L684.8,169.2 L685.3,168.7 L685.7,168.3 L686.2,167.8 L686.7,167.4 L687.2,166.9 L687.8,166.5 L688.5,166.0 L689.2,165.4 L690.0,164.9 L690.9,164.4 L691.8,163.8 L692.8,163.2 L693.8,162.7 L694.9,162.1 L696.0,161.5 L697.1,160.9 L698.2,160.4 L699.2,159.8 L700.3,159.3 L701.4,158.8 L702.3,158.3 L703.2,157.8 L704.1,157.4 L704.9,157.0 L705.7,156.6 L706.5,156.3 L707.4,155.9 L708.3,155.5 L709.3,155.1 L710.4,154.7 L711.6,154.2 L712.9,153.8 L714.4,153.2 L716.1,152.7 L717.9,152.1 L719.9,151.5 L721.9,150.9 L724.0,150.2 L726.1,149.6 L728.2,149.0 L730.2,148.3 L732.1,147.7 L734.0,147.2 L735.6,146.6 L737.1,146.1 L738.6,145.6 L739.9,145.2 L741.2,144.7 L742.4,144.3 L743.6,143.9 L744.8,143.5 L745.9,143.0 L747.1,142.6 L748.2,142.1 L749.4,141.6 L750.7,141.1 L751.9,140.5 L753.2,139.9 L754.4,139.3 L755.7,138.7 L756.9,138.1 L758.2,137.4 L759.4,136.7 L760.7,136.0 L761.9,135.3 L763.2,134.6 L764.4,133.9 L765.7,133.1 L766.9,132.3 L768.2,131.5 L769.5,130.6 L770.8,129.8 L772.1,128.9 L773.4,127.9 L774.7,127.0 L776.0,126.1 L777.2,125.2 L778.3,124.4 L779.5,123.5 L780.5,122.7 L781.5,122.0 L782.5,121.2 L783.4,120.5 L784.3,119.8 L785.1,119.1 L785.9,118.4 L786.7,117.8 L787.4,117.1 L788.2,116.4 L788.9,115.8 L789.6,115.1 L790.4,114.4 L791.1,113.7 L791.8,113.0 L792.5,112.3 L793.1,111.6 L793.8,110.9 L794.4,110.2 L795.0,109.6 L795.6,108.9 L796.2,108.2 L796.8,107.5 L797.5,106.8 L798.1,106.1 L797.9,105.9 L797.2,106.5 L796.5,107.2 L795.9,107.8 L795.2,108.5 L794.5,109.1 L793.9,109.8 L793.2,110.4 L792.5,111.0 L791.8,111.7 L791.1,112.3 L790.4,113.0 L789.6,113.6 L788.9,114.2 L788.1,114.8 L787.3,115.5 L786.6,116.1 L785.8,116.7 L785.0,117.3 L784.2,117.9 L783.3,118.6 L782.4,119.2 L781.5,119.9 L780.5,120.6 L779.5,121.3 L778.4,122.0 L777.2,122.8 L776.0,123.6 L774.8,124.4 L773.5,125.3 L772.2,126.1 L770.9,127.0 L769.5,127.8 L768.2,128.6 L766.9,129.4 L765.6,130.2 L764.3,130.9 L763.1,131.6 L761.8,132.2 L760.6,132.9 L759.3,133.5 L758.1,134.1 L756.8,134.7 L755.6,135.3 L754.3,135.9 L753.1,136.4 L751.8,136.9 L750.6,137.4 L749.3,137.9 L748.1,138.4 L747.0,138.8 L745.8,139.2 L744.7,139.5 L743.6,139.9 L742.4,140.2 L741.2,140.6 L740.0,140.9 L738.7,141.2 L737.4,141.6 L735.9,142.0 L734.4,142.4 L732.7,142.8 L730.9,143.3 L728.9,143.8 L726.9,144.3 L724.8,144.8 L722.6,145.3 L720.5,145.8 L718.4,146.3 L716.4,146.8 L714.5,147.3 L712.7,147.8 L711.1,148.2 L709.7,148.7 L708.4,149.1 L707.2,149.5 L706.1,149.8 L705.1,150.2 L704.2,150.5 L703.3,150.9 L702.4,151.3 L701.5,151.6 L700.6,152.0 L699.7,152.4 L698.6,152.8 L697.6,153.3 L696.5,153.8 L695.3,154.2 L694.1,154.7 L692.9,155.3 L691.8,155.8 L690.6,156.3 L689.4,156.9 L688.3,157.4 L687.2,158.0 L686.1,158.6 L685.2,159.2 L684.3,159.7 L683.4,160.3 L682.6,160.8 L681.9,161.3 L681.2,161.9 L680.5,162.5 L679.8,163.1 L679.1,163.7 L678.5,164.4 L677.9,165.1 L677.3,165.8 L676.6,166.6 L676.0,167.4 L675.4,168.3 L674.7,169.2 L674.1,170.2 L673.5,171.2 L673.0,172.1 L672.4,173.1 L671.9,174.1 L671.4,175.1 L670.9,176.1 L670.4,177.1 L670.0,178.0 L669.5,179.0 L669.1,179.9 L668.8,180.9 L668.4,181.8 L668.1,182.7 L667.8,183.6 L667.5,184.5 L667.3,185.4 L667.0,186.2 L666.7,187.1 L666.5,187.9 L666.2,188.7 L665.9,189.5 L665.6,190.3 L665.4,191.1 L665.1,191.8 L664.9,192.6 L664.6,193.3 L664.4,194.0 L664.1,194.8 L663.8,195.6 L663.4,196.5 L663.1,197.5 L662.6,198.6 L662.1,199.8 L661.6,201.1 L661.0,202.5 L660.4,204.0 L659.8,205.5 L659.2,207.1 L658.5,208.6 L657.9,210.1 L657.2,211.6 L656.5,213.1 L655.8,214.5 L655.2,215.7 L654.5,217.0 L653.8,218.2 L653.1,219.3 L652.4,220.5 L651.6,221.7 L650.9,222.8 L650.1,223.9 L649.3,225.1 L648.6,226.2 L647.8,227.2 L647.1,228.3 L646.4,229.3 L645.7,230.3 L645.1,231.3 L644.4,232.2 L643.8,233.1 L643.1,234.0 L642.5,234.9 L641.9,235.7 L641.4,236.5 L640.8,237.2 L640.3,237.9 L639.8,238.6 L639.4,239.2 L639.0,239.7 L638.7,240.1 L638.5,240.5 L638.2,240.8 L638.0,241.0 L637.8,241.3 L637.7,241.5 L637.5,241.7 L637.4,241.9 L637.2,242.1 L637.0,242.4 L636.8,242.7Z"/>
<path d="M686.2,166.0 L687.1,165.9 L687.9,165.8 L688.8,165.8 L689.6,165.7 L690.4,165.6 L691.2,165.5 L692.0,165.4 L692.8,165.4 L693.6,165.3 L694.4,165.3 L695.1,165.3 L695.9,165.3 L696.8,165.3 L697.6,165.4 L698.5,165.4 L699.3,165.5 L700.2,165.5 L701.0,165.6 L701.9,165.7 L702.8,165.8 L703.7,166.0 L704.6,166.1 L705.5,166.3 L706.4,166.4 L707.4,166.6 L708.4,166.8 L709.3,167.0 L710.2,167.2 L711.1,167.4 L712.0,167.6 L713.0,167.8 L713.9,168.1 L715.0,168.4 L716.0,168.7 L717.2,169.2 L718.4,169.7 L719.8,170.2 L721.2,170.9 L722.8,171.6 L724.4,172.4 L726.1,173.2 L727.8,174.1 L729.5,174.9 L731.3,175.9 L733.1,176.8 L734.8,177.7 L736.6,178.7 L738.2,179.6 L739.9,180.5 L741.5,181.4 L743.2,182.5 L744.8,183.5 L746.5,184.6 L748.2,185.7 L749.9,186.8 L751.7,187.8 L753.4,188.8 L755.1,189.8 L756.9,190.7 L758.7,191.4 L760.4,192.1 L762.1,192.8 L763.8,193.4 L765.6,193.9 L767.3,194.4 L769.0,194.8 L770.7,195.2 L772.5,195.5 L774.2,195.8 L775.9,196.0 L777.6,196.2 L779.3,196.3 L781.0,196.3 L782.8,196.3 L784.5,196.2 L786.2,196.0 L787.9,195.8 L789.6,195.5 L791.3,195.2 L793.0,194.8 L794.6,194.4 L796.2,194.0 L797.9,193.6 L799.4,193.1 L801.0,192.6 L802.5,192.0 L804.0,191.3 L805.5,190.7 L807.0,190.0 L808.4,189.2 L809.9,188.5 L811.3,187.7 L812.7,186.9 L814.2,186.2 L815.6,185.4 L817.1,184.7 L816.9,184.5 L815.5,185.1 L814.0,185.8 L812.5,186.5 L811.1,187.2 L809.6,188.0 L808.1,188.7 L806.7,189.3 L805.2,190.0 L803.7,190.6 L802.2,191.2 L800.7,191.7 L799.2,192.1 L797.6,192.5 L796.0,192.9 L794.3,193.2 L792.7,193.5 L791.0,193.8 L789.4,194.0 L787.7,194.1 L786.0,194.2 L784.4,194.3 L782.7,194.3 L781.1,194.2 L779.5,194.1 L777.9,193.9 L776.2,193.6 L774.6,193.3 L773.0,193.0 L771.4,192.5 L769.8,192.0 L768.2,191.5 L766.6,190.9 L765.0,190.3 L763.3,189.6 L761.7,188.9 L760.1,188.2 L758.6,187.3 L757.0,186.4 L755.4,185.5 L753.9,184.4 L752.3,183.3 L750.7,182.1 L749.0,181.0 L747.4,179.8 L745.8,178.6 L744.1,177.4 L742.4,176.3 L740.8,175.2 L739.1,174.2 L737.4,173.2 L735.6,172.2 L733.9,171.1 L732.2,170.1 L730.4,169.1 L728.7,168.2 L727.0,167.2 L725.4,166.4 L723.8,165.6 L722.2,164.8 L720.8,164.1 L719.4,163.6 L718.1,163.0 L716.8,162.6 L715.7,162.2 L714.5,161.9 L713.4,161.7 L712.4,161.4 L711.4,161.2 L710.4,161.1 L709.5,160.9 L708.5,160.7 L707.6,160.6 L706.6,160.4 L705.6,160.2 L704.6,160.0 L703.6,159.9 L702.6,159.8 L701.7,159.7 L700.7,159.6 L699.8,159.5 L698.8,159.4 L697.9,159.4 L697.0,159.3 L696.1,159.3 L695.1,159.3 L694.2,159.3 L693.3,159.3 L692.4,159.4 L691.5,159.5 L690.7,159.5 L689.8,159.6 L689.0,159.7 L688.2,159.8 L687.4,159.9 L686.6,159.9 L685.8,160.0Z"/>
<path d="M641.9,245.9 L642.4,245.6 L643.4,244.1 L643.7,242.4 L643.5,241.8 L643.6,242.3 L643.4,243.9 L642.5,245.1 L641.9,245.6 L641.7,245.7 L641.7,245.6 L642.1,245.6 L642.6,245.4 L643.4,245.3 L644.3,245.1 L645.4,244.9 L646.5,244.7 L647.6,244.5 L648.9,244.3 L650.2,244.1 L651.6,243.9 L653.1,243.7 L654.6,243.6 L656.2,243.4 L657.8,243.3 L659.5,243.3 L661.3,243.2 L663.3,243.1 L665.3,243.0 L667.4,243.0 L669.5,243.0 L671.7,243.0 L673.9,243.0 L676.1,243.0 L678.2,243.1 L680.4,243.2 L682.4,243.3 L684.5,243.5 L686.5,243.7 L688.6,244.0 L690.7,244.3 L692.8,244.6 L694.9,245.0 L697.0,245.3 L699.1,245.7 L701.2,246.1 L703.2,246.4 L705.3,246.8 L707.3,247.1 L709.2,247.4 L711.1,247.7 L713.0,248.1 L714.8,248.4 L716.6,248.7 L718.4,249.0 L720.2,249.3 L722.0,249.7 L723.9,250.0 L725.7,250.3 L727.6,250.6 L729.6,251.0 L731.6,251.3 L733.6,251.6 L735.7,252.0 L737.8,252.3 L739.9,252.6 L742.0,253.0 L744.2,253.3 L746.3,253.6 L748.5,254.0 L750.6,254.3 L752.8,254.5 L754.9,254.8 L757.0,255.0 L759.2,255.3 L761.3,255.5 L763.5,255.7 L765.7,255.9 L767.9,256.1 L770.1,256.3 L772.2,256.5 L774.3,256.6 L776.3,256.7 L778.3,256.7 L780.2,256.7 L782.0,256.7 L783.7,256.7 L785.4,256.6 L787.0,256.4 L788.6,256.3 L790.1,256.1 L791.6,255.9 L793.1,255.6 L794.6,255.4 L796.1,255.1 L797.6,254.8 L799.2,254.5 L800.8,254.2 L802.4,253.8 L804.1,253.4 L805.7,252.9 L807.4,252.5 L809.1,252.0 L810.7,251.6 L812.3,251.1 L813.8,250.6 L815.3,250.2 L816.7,249.7 L818.0,249.3 L819.1,248.9 L820.2,248.5 L821.2,248.1 L822.1,247.7 L823.0,247.3 L823.8,246.9 L824.6,246.5 L825.3,246.1 L826.1,245.7 L826.9,245.3 L827.7,244.9 L828.6,244.5 L828.4,244.3 L827.6,244.6 L826.7,244.9 L825.9,245.3 L825.1,245.6 L824.3,245.9 L823.5,246.3 L822.7,246.6 L821.8,247.0 L820.9,247.3 L819.9,247.6 L818.8,248.0 L817.6,248.3 L816.4,248.7 L815.0,249.1 L813.5,249.5 L812.0,249.9 L810.4,250.3 L808.7,250.7 L807.1,251.1 L805.4,251.5 L803.7,251.8 L802.1,252.1 L800.4,252.4 L798.8,252.7 L797.3,253.0 L795.8,253.2 L794.3,253.4 L792.8,253.6 L791.3,253.8 L789.9,253.9 L788.4,254.1 L786.8,254.2 L785.3,254.2 L783.7,254.3 L782.0,254.3 L780.2,254.3 L778.4,254.2 L776.4,254.1 L774.5,253.9 L772.4,253.8 L770.3,253.6 L768.2,253.3 L766.0,253.1 L763.9,252.8 L761.7,252.5 L759.5,252.2 L757.4,251.9 L755.3,251.6 L753.2,251.3 L751.1,250.9 L749.0,250.5 L746.9,250.1 L744.8,249.7 L742.7,249.3 L740.6,248.8 L738.5,248.4 L736.5,247.9 L734.4,247.5 L732.4,247.1 L730.4,246.6 L728.5,246.2 L726.6,245.8 L724.8,245.4 L723.0,245.0 L721.2,244.6 L719.4,244.2 L717.6,243.7 L715.8,243.3 L714.0,242.9 L712.1,242.5 L710.2,242.1 L708.3,241.7 L706.3,241.3 L704.3,240.9 L702.3,240.4 L700.2,240.0 L698.1,239.6 L696.0,239.1 L693.8,238.7 L691.7,238.3 L689.5,237.9 L687.3,237.6 L685.1,237.3 L683.0,237.1 L680.8,236.9 L678.6,236.7 L676.3,236.6 L674.1,236.5 L671.8,236.4 L669.6,236.3 L667.4,236.3 L665.2,236.3 L663.1,236.3 L661.1,236.4 L659.2,236.4 L657.4,236.5 L655.7,236.5 L654.0,236.7 L652.3,236.8 L650.8,237.0 L649.2,237.2 L647.8,237.4 L646.5,237.6 L645.2,237.9 L644.1,238.1 L643.1,238.2 L642.2,238.4 L641.4,238.6 L640.7,238.7 L640.0,238.8 L639.4,239.0 L638.8,239.3 L637.9,239.9 L636.9,241.3 L636.7,243.0 L636.8,243.6 L636.7,243.1 L636.9,241.5 L637.8,240.3 L638.1,240.1Z"/>
<path d="M705.4,246.4 L706.3,246.7 L707.2,246.9 L708.1,247.1 L709.0,247.3 L709.9,247.5 L710.8,247.7 L711.6,248.0 L712.4,248.2 L713.1,248.4 L713.9,248.7 L714.6,249.1 L715.3,249.4 L716.0,249.8 L716.7,250.3 L717.4,250.9 L718.2,251.5 L719.0,252.2 L719.7,252.9 L720.6,253.7 L721.4,254.4 L722.2,255.2 L723.1,256.0 L724.0,256.7 L724.9,257.4 L725.8,258.1 L726.6,258.7 L727.5,259.3 L728.4,259.9 L729.2,260.5 L730.1,261.0 L731.0,261.6 L731.8,262.2 L732.7,262.7 L733.6,263.3 L734.5,263.9 L735.3,264.5 L736.3,265.1 L737.2,265.6 L738.1,266.3 L739.0,266.9 L739.9,267.5 L740.9,268.1 L741.8,268.7 L742.8,269.3 L743.7,269.9 L744.7,270.5 L745.7,271.1 L746.7,271.7 L747.7,272.3 L748.6,272.9 L749.6,273.4 L750.5,274.0 L751.5,274.6 L752.4,275.1 L753.4,275.7 L754.5,276.3 L755.6,276.9 L756.8,277.5 L758.0,278.2 L759.3,278.8 L760.8,279.6 L762.4,280.3 L764.1,281.2 L765.9,282.0 L767.8,282.9 L769.7,283.8 L771.5,284.6 L773.3,285.5 L775.1,286.2 L776.7,287.0 L778.1,287.6 L779.4,288.2 L780.4,288.7 L781.2,289.1 L781.9,289.4 L782.5,289.7 L783.0,289.9 L783.4,290.1 L783.9,290.4 L784.4,290.6 L785.0,290.8 L785.7,291.1 L786.5,291.4 L787.5,291.7 L788.6,292.1 L789.9,292.5 L791.3,293.0 L792.8,293.4 L794.4,293.9 L795.9,294.4 L797.6,294.8 L799.2,295.3 L800.7,295.8 L802.2,296.2 L803.7,296.6 L805.0,297.0 L806.2,297.3 L807.4,297.6 L808.6,297.9 L809.7,298.1 L810.8,298.4 L811.9,298.6 L812.9,298.9 L813.9,299.1 L814.9,299.3 L815.9,299.5 L816.9,299.7 L817.9,299.9 L818.8,300.1 L819.7,300.3 L820.6,300.4 L821.5,300.6 L822.4,300.7 L823.2,300.9 L824.1,301.0 L824.9,301.2 L825.7,301.3 L826.6,301.4 L827.4,301.6 L828.3,301.7 L828.3,301.5 L827.5,301.2 L826.7,301.0 L825.8,300.8 L825.0,300.6 L824.2,300.4 L823.4,300.2 L822.5,299.9 L821.7,299.7 L820.9,299.5 L820.0,299.2 L819.1,299.0 L818.1,298.7 L817.2,298.4 L816.2,298.2 L815.3,297.9 L814.3,297.6 L813.3,297.3 L812.3,297.0 L811.3,296.7 L810.2,296.3 L809.1,296.0 L808.0,295.6 L806.8,295.2 L805.6,294.8 L804.3,294.4 L802.9,294.0 L801.4,293.5 L799.9,292.9 L798.3,292.4 L796.7,291.9 L795.2,291.3 L793.7,290.8 L792.2,290.3 L790.9,289.8 L789.6,289.3 L788.5,288.9 L787.6,288.5 L786.9,288.2 L786.3,287.9 L785.9,287.6 L785.5,287.4 L785.1,287.2 L784.7,286.9 L784.2,286.6 L783.6,286.2 L782.9,285.8 L782.1,285.4 L781.0,284.8 L779.8,284.1 L778.4,283.4 L776.8,282.6 L775.1,281.8 L773.3,280.9 L771.5,280.0 L769.7,279.0 L767.9,278.1 L766.1,277.2 L764.4,276.3 L762.9,275.5 L761.5,274.8 L760.2,274.1 L759.0,273.4 L757.9,272.8 L756.9,272.1 L755.9,271.6 L754.9,271.0 L754.0,270.4 L753.0,269.8 L752.1,269.2 L751.2,268.7 L750.3,268.1 L749.3,267.5 L748.3,266.9 L747.4,266.3 L746.5,265.6 L745.5,265.0 L744.6,264.4 L743.7,263.8 L742.7,263.2 L741.8,262.6 L740.9,262.0 L740.0,261.4 L739.1,260.8 L738.3,260.1 L737.4,259.5 L736.5,258.9 L735.7,258.3 L734.8,257.7 L734.0,257.2 L733.2,256.6 L732.3,256.0 L731.5,255.4 L730.7,254.8 L729.9,254.2 L729.1,253.6 L728.3,253.0 L727.5,252.4 L726.8,251.7 L726.0,251.0 L725.2,250.3 L724.3,249.5 L723.5,248.8 L722.6,248.0 L721.8,247.3 L720.9,246.5 L719.9,245.8 L718.9,245.2 L717.9,244.6 L716.9,244.1 L715.9,243.7 L714.8,243.3 L713.8,243.0 L712.9,242.8 L711.9,242.6 L711.0,242.4 L710.1,242.3 L709.2,242.1 L708.3,242.0 L707.5,241.8 L706.6,241.6Z"/>
<path d="M638.5,245.7 L639.1,245.9 L641.1,246.0 L643.5,244.3 L644.0,243.4 L643.5,244.2 L641.2,245.8 L639.3,245.8 L638.7,245.5 L638.6,245.5 L638.7,245.6 L639.1,245.8 L639.6,246.2 L640.3,246.7 L641.1,247.3 L642.0,248.1 L643.1,248.9 L644.2,249.8 L645.4,250.7 L646.6,251.6 L647.9,252.6 L649.1,253.6 L650.3,254.6 L651.4,255.5 L652.4,256.4 L653.4,257.3 L654.4,258.2 L655.4,259.1 L656.4,260.1 L657.4,261.0 L658.3,262.0 L659.3,262.9 L660.3,263.9 L661.3,264.8 L662.3,265.8 L663.3,266.8 L664.3,267.7 L665.3,268.7 L666.2,269.6 L667.2,270.5 L668.2,271.4 L669.2,272.3 L670.1,273.2 L671.1,274.1 L672.1,275.0 L673.1,275.9 L674.0,276.8 L675.0,277.7 L676.0,278.7 L677.0,279.7 L678.1,280.7 L679.1,281.7 L680.2,282.8 L681.3,283.9 L682.4,285.0 L683.5,286.0 L684.5,287.1 L685.6,288.1 L686.6,289.2 L687.6,290.2 L688.6,291.1 L689.5,292.0 L690.3,292.9 L691.1,293.8 L692.0,294.6 L692.8,295.5 L693.6,296.4 L694.5,297.2 L695.3,298.1 L696.2,298.9 L697.1,299.8 L698.1,300.6 L699.1,301.4 L700.1,302.1 L701.1,302.8 L702.1,303.4 L703.1,304.0 L704.1,304.6 L705.1,305.2 L706.2,305.7 L707.2,306.2 L708.3,306.7 L709.3,307.1 L710.4,307.5 L711.4,308.0 L712.5,308.4 L713.7,308.7 L714.8,309.1 L716.0,309.4 L717.1,309.6 L718.3,309.9 L719.4,310.1 L720.5,310.3 L721.6,310.5 L722.7,310.7 L723.7,310.9 L724.7,311.0 L725.7,311.1 L726.6,311.2 L727.5,311.3 L728.4,311.4 L729.3,311.4 L730.1,311.5 L730.9,311.5 L731.8,311.5 L732.6,311.5 L733.5,311.5 L734.4,311.4 L735.3,311.4 L736.3,311.4 L737.3,311.3 L738.3,311.2 L739.4,311.2 L740.5,311.1 L741.5,311.0 L742.6,310.9 L743.7,310.8 L744.8,310.6 L745.9,310.5 L746.9,310.4 L748.0,310.3 L749.0,310.2 L750.1,310.1 L751.2,309.9 L752.2,309.8 L753.3,309.7 L754.3,309.5 L755.4,309.4 L756.5,309.3 L757.5,309.1 L758.6,309.0 L759.6,308.8 L760.7,308.7 L761.7,308.5 L762.8,308.4 L763.8,308.2 L764.8,308.0 L765.8,307.8 L766.8,307.6 L767.8,307.5 L768.8,307.3 L769.9,307.1 L770.9,306.9 L772.0,306.8 L773.1,306.6 L774.3,306.4 L775.5,306.2 L776.8,306.1 L778.0,305.9 L779.3,305.7 L780.7,305.5 L782.0,305.3 L783.2,305.2 L784.5,305.0 L785.8,304.9 L786.9,304.8 L788.1,304.6 L789.2,304.6 L790.3,304.5 L791.3,304.4 L792.4,304.4 L793.4,304.3 L794.4,304.3 L795.3,304.3 L796.3,304.2 L797.2,304.2 L798.1,304.3 L799.0,304.3 L799.9,304.3 L800.8,304.3 L801.6,304.4 L802.3,304.4 L803.0,304.4 L803.7,304.5 L804.4,304.5 L805.1,304.6 L805.8,304.7 L806.5,304.8 L807.3,305.0 L808.2,305.2 L809.2,305.4 L810.3,305.7 L811.4,306.0 L812.7,306.4 L814.0,306.7 L815.3,307.1 L816.6,307.6 L818.0,308.0 L819.4,308.5 L820.8,309.0 L822.2,309.4 L823.6,309.9 L824.9,310.4 L826.2,310.9 L827.6,311.4 L828.9,311.9 L830.2,312.4 L831.5,312.9 L832.8,313.4 L834.1,314.0 L835.5,314.5 L836.8,315.0 L838.1,315.6 L839.4,316.1 L840.7,316.6 L840.9,316.4 L839.6,315.7 L838.3,315.1 L837.0,314.5 L835.8,313.9 L834.5,313.2 L833.2,312.6 L831.9,312.0 L830.6,311.3 L829.3,310.7 L828.1,310.1 L826.8,309.6 L825.5,309.0 L824.2,308.4 L822.8,307.9 L821.4,307.3 L820.1,306.8 L818.7,306.3 L817.3,305.7 L815.9,305.2 L814.6,304.8 L813.3,304.3 L812.1,303.9 L810.9,303.5 L809.8,303.2 L808.8,302.9 L807.8,302.7 L807.0,302.5 L806.2,302.3 L805.4,302.2 L804.7,302.1 L803.9,302.0 L803.2,301.9 L802.5,301.9 L801.7,301.8 L800.9,301.8 L800.1,301.7 L799.1,301.6 L798.2,301.6 L797.3,301.6 L796.3,301.6 L795.3,301.6 L794.3,301.6 L793.3,301.6 L792.3,301.6 L791.2,301.6 L790.1,301.7 L789.0,301.7 L787.9,301.8 L786.7,301.8 L785.5,301.9 L784.2,301.9 L783.0,302.0 L781.6,302.1 L780.3,302.2 L779.0,302.3 L777.7,302.4 L776.4,302.5 L775.1,302.6 L773.9,302.7 L772.7,302.8 L771.5,302.9 L770.4,303.0 L769.3,303.2 L768.2,303.3 L767.2,303.4 L766.2,303.6 L765.2,303.7 L764.2,303.8 L763.2,304.0 L762.2,304.1 L761.1,304.2 L760.1,304.3 L759.1,304.4 L758.0,304.5 L757.0,304.6 L755.9,304.7 L754.9,304.8 L753.9,304.9 L752.8,305.0 L751.8,305.1 L750.7,305.1 L749.7,305.2 L748.6,305.3 L747.6,305.3 L746.6,305.3 L745.5,305.4 L744.4,305.4 L743.4,305.4 L742.3,305.5 L741.3,305.5 L740.2,305.5 L739.2,305.5 L738.2,305.5 L737.2,305.4 L736.2,305.4 L735.3,305.4 L734.4,305.4 L733.5,305.3 L732.7,305.3 L731.9,305.3 L731.1,305.2 L730.4,305.2 L729.7,305.1 L728.9,305.1 L728.2,305.0 L727.4,304.9 L726.6,304.7 L725.7,304.6 L724.8,304.4 L723.8,304.2 L722.8,304.0 L721.8,303.8 L720.8,303.6 L719.8,303.3 L718.8,303.1 L717.8,302.8 L716.8,302.5 L715.8,302.1 L714.9,301.8 L714.0,301.4 L713.1,301.0 L712.2,300.6 L711.3,300.2 L710.4,299.8 L709.5,299.3 L708.6,298.8 L707.8,298.3 L706.9,297.8 L706.1,297.2 L705.3,296.7 L704.5,296.1 L703.7,295.4 L703.0,294.8 L702.2,294.1 L701.5,293.4 L700.8,292.7 L700.1,291.9 L699.3,291.1 L698.6,290.2 L697.8,289.3 L697.0,288.4 L696.1,287.4 L695.2,286.5 L694.2,285.5 L693.3,284.5 L692.3,283.5 L691.3,282.5 L690.2,281.4 L689.1,280.3 L688.0,279.3 L687.0,278.2 L685.9,277.1 L684.8,276.0 L683.7,275.0 L682.6,273.9 L681.6,272.9 L680.5,271.9 L679.5,271.0 L678.5,270.0 L677.5,269.1 L676.6,268.2 L675.6,267.3 L674.6,266.4 L673.6,265.5 L672.7,264.6 L671.7,263.7 L670.7,262.8 L669.7,261.9 L668.8,261.0 L667.8,260.0 L666.8,259.1 L665.8,258.2 L664.8,257.2 L663.8,256.3 L662.8,255.3 L661.8,254.4 L660.7,253.4 L659.7,252.5 L658.6,251.5 L657.6,250.6 L656.4,249.6 L655.3,248.6 L654.1,247.6 L652.8,246.5 L651.6,245.5 L650.3,244.5 L649.1,243.6 L648.0,242.7 L647.0,241.8 L646.0,241.0 L645.1,240.4 L644.4,239.8 L643.8,239.4 L643.3,239.0 L642.9,238.7 L642.3,238.4 L641.5,238.0 L639.4,238.0 L637.0,239.6 L636.5,240.6 L637.0,239.7 L639.3,238.2 L641.2,238.2 L641.5,238.3Z"/>
<path d="M725.0,309.8 L725.8,310.1 L726.6,310.4 L727.4,310.7 L728.1,310.9 L728.8,311.1 L729.5,311.4 L730.2,311.6 L730.9,311.8 L731.6,312.1 L732.3,312.4 L733.0,312.8 L733.8,313.2 L734.6,313.6 L735.5,314.2 L736.5,314.7 L737.5,315.4 L738.5,316.0 L739.5,316.7 L740.6,317.4 L741.7,318.2 L742.8,318.9 L743.9,319.6 L745.0,320.4 L746.0,321.1 L747.1,321.8 L748.1,322.5 L749.2,323.3 L750.3,324.0 L751.4,324.8 L752.5,325.5 L753.6,326.3 L754.6,327.0 L755.7,327.8 L756.7,328.5 L757.7,329.2 L758.6,329.8 L759.5,330.5 L760.4,331.1 L761.2,331.7 L762.0,332.3 L762.8,332.9 L763.6,333.4 L764.4,334.0 L765.2,334.6 L766.0,335.1 L766.8,335.7 L767.6,336.3 L768.4,336.8 L769.2,337.4 L770.0,337.9 L770.8,338.5 L771.6,339.0 L772.4,339.5 L773.3,340.1 L774.1,340.6 L775.0,341.1 L775.8,341.7 L776.8,342.2 L777.7,342.8 L778.7,343.3 L779.8,343.9 L780.8,344.5 L782.0,345.1 L783.1,345.7 L784.3,346.4 L785.5,347.0 L786.7,347.6 L788.0,348.2 L789.2,348.9 L790.5,349.5 L791.8,350.0 L793.0,350.6 L794.3,351.2 L795.6,351.7 L796.9,352.2 L798.2,352.8 L799.6,353.3 L800.9,353.8 L802.3,354.3 L803.6,354.8 L805.0,355.3 L806.3,355.7 L807.7,356.2 L809.0,356.6 L810.3,357.0 L811.6,357.4 L812.9,357.8 L814.2,358.2 L815.5,358.5 L816.8,358.9 L818.1,359.2 L819.4,359.5 L820.7,359.8 L822.1,360.1 L823.5,360.5 L825.0,360.8 L826.5,361.1 L828.0,361.4 L829.6,361.7 L831.2,362.0 L832.8,362.2 L834.5,362.5 L836.2,362.8 L837.8,363.1 L839.5,363.3 L841.2,363.6 L842.8,363.9 L844.5,364.1 L844.5,363.9 L842.9,363.4 L841.3,363.0 L839.7,362.6 L838.0,362.2 L836.4,361.8 L834.7,361.3 L833.1,360.9 L831.5,360.5 L829.9,360.1 L828.4,359.7 L826.9,359.2 L825.4,358.8 L824.0,358.4 L822.7,358.0 L821.3,357.6 L820.0,357.2 L818.7,356.8 L817.5,356.4 L816.2,356.0 L815.0,355.6 L813.8,355.2 L812.5,354.7 L811.3,354.3 L810.0,353.8 L808.7,353.3 L807.4,352.8 L806.1,352.2 L804.8,351.7 L803.5,351.1 L802.3,350.6 L801.0,350.0 L799.7,349.4 L798.4,348.8 L797.2,348.2 L796.0,347.6 L794.8,347.0 L793.6,346.4 L792.4,345.7 L791.2,345.1 L790.0,344.4 L788.9,343.7 L787.7,343.0 L786.6,342.3 L785.5,341.7 L784.4,341.0 L783.3,340.3 L782.3,339.7 L781.3,339.1 L780.3,338.5 L779.4,337.9 L778.6,337.3 L777.8,336.8 L777.0,336.2 L776.2,335.7 L775.4,335.1 L774.7,334.6 L773.9,334.1 L773.2,333.5 L772.4,332.9 L771.6,332.4 L770.8,331.8 L770.1,331.2 L769.3,330.6 L768.6,330.0 L767.9,329.5 L767.1,328.9 L766.4,328.2 L765.6,327.6 L764.8,327.0 L763.9,326.3 L763.1,325.7 L762.2,325.0 L761.2,324.3 L760.2,323.5 L759.2,322.8 L758.2,322.0 L757.1,321.3 L756.1,320.5 L755.0,319.7 L753.9,318.9 L752.8,318.2 L751.7,317.4 L750.6,316.6 L749.6,315.9 L748.5,315.2 L747.5,314.4 L746.4,313.7 L745.3,312.9 L744.2,312.1 L743.2,311.4 L742.1,310.6 L741.0,309.9 L739.9,309.2 L738.9,308.6 L737.8,308.0 L736.8,307.4 L735.8,306.9 L734.9,306.5 L733.9,306.1 L733.0,305.8 L732.2,305.6 L731.4,305.3 L730.6,305.1 L729.8,304.9 L729.1,304.8 L728.4,304.6 L727.7,304.4 L727.0,304.2Z"/>
<path d="M533.9,395.3 L534.6,395.8 L535.1,396.3 L535.7,396.8 L536.3,397.3 L537.0,397.9 L537.6,398.5 L538.3,399.1 L539.1,399.7 L539.8,400.3 L540.7,400.9 L541.6,401.6 L542.5,402.2 L543.4,402.8 L544.4,403.4 L545.3,403.9 L546.3,404.5 L547.3,405.0 L548.3,405.5 L549.3,406.0 L550.3,406.5 L551.3,407.0 L552.3,407.5 L553.2,408.0 L554.2,408.5 L555.2,409.0 L556.2,409.5 L557.2,410.0 L558.2,410.5 L559.2,411.0 L560.2,411.5 L561.3,412.0 L562.3,412.5 L563.5,413.0 L564.6,413.6 L565.9,414.2 L567.2,414.8 L568.6,415.5 L570.1,416.2 L571.7,417.0 L573.3,417.8 L575.0,418.7 L576.8,419.5 L578.6,420.4 L580.4,421.3 L582.2,422.2 L584.1,423.0 L585.9,423.8 L587.7,424.6 L589.4,425.3 L591.2,425.9 L592.9,426.6 L594.6,427.2 L596.3,427.8 L598.0,428.4 L599.7,428.9 L601.4,429.5 L603.1,430.0 L604.8,430.5 L606.5,431.0 L608.2,431.5 L609.9,432.0 L611.6,432.4 L613.3,432.9 L615.0,433.3 L616.7,433.7 L618.4,434.2 L620.1,434.6 L621.7,434.9 L623.4,435.3 L625.1,435.7 L626.8,436.1 L628.5,436.4 L630.1,436.8 L631.8,437.1 L633.5,437.5 L635.2,437.8 L636.9,438.2 L638.6,438.5 L640.3,438.8 L641.9,439.1 L643.6,439.4 L645.3,439.7 L647.0,439.9 L648.7,440.2 L650.4,440.4 L652.1,440.6 L653.8,440.9 L655.5,441.1 L657.3,441.2 L659.0,441.4 L660.7,441.6 L662.4,441.7 L664.1,441.9 L665.7,442.0 L667.4,442.1 L669.0,442.2 L670.6,442.3 L672.2,442.5 L673.8,442.6 L675.4,442.7 L677.0,442.8 L678.6,442.9 L680.2,443.0 L681.7,443.0 L683.3,443.0 L684.8,443.0 L686.4,442.9 L687.8,442.8 L689.3,442.6 L690.6,442.3 L691.9,442.0 L693.1,441.7 L694.2,441.3 L695.3,440.9 L696.4,440.5 L697.4,440.1 L698.4,439.7 L699.4,439.3 L700.4,438.9 L701.5,438.5 L702.6,438.1 L703.9,437.6 L705.1,437.1 L706.4,436.6 L707.7,436.1 L709.0,435.5 L710.2,435.0 L711.5,434.5 L712.8,434.0 L714.1,433.5 L715.3,433.0 L716.5,432.5 L717.8,432.0 L719.0,431.6 L720.2,431.1 L721.3,430.7 L722.4,430.3 L723.5,429.9 L724.7,429.5 L725.9,429.0 L727.1,428.6 L728.5,428.2 L729.9,427.7 L731.4,427.3 L733.1,426.8 L735.0,426.3 L736.9,425.7 L738.9,425.2 L741.0,424.6 L743.2,424.1 L745.4,423.5 L747.6,423.0 L749.8,422.4 L751.9,421.9 L754.1,421.4 L756.2,420.9 L758.2,420.4 L760.4,420.0 L762.5,419.5 L764.7,419.1 L766.9,418.7 L769.1,418.2 L771.3,417.8 L773.4,417.4 L775.4,417.1 L777.3,416.7 L779.2,416.4 L780.9,416.1 L782.4,415.8 L783.9,415.6 L785.2,415.3 L786.5,415.1 L787.7,415.0 L788.9,414.8 L790.0,414.6 L791.0,414.5 L792.1,414.4 L793.2,414.2 L794.2,414.1 L795.3,414.0 L796.3,413.9 L797.2,413.8 L798.1,413.7 L799.0,413.6 L799.8,413.5 L800.6,413.4 L801.4,413.3 L802.1,413.3 L802.9,413.2 L803.7,413.1 L804.5,413.1 L805.3,413.0 L806.2,412.9 L807.0,412.8 L807.8,412.7 L808.6,412.6 L809.3,412.6 L810.1,412.5 L810.9,412.4 L811.7,412.3 L812.5,412.3 L813.4,412.2 L814.3,412.1 L815.3,412.0 L816.3,411.9 L817.5,411.8 L818.7,411.6 L820.0,411.5 L821.3,411.4 L822.7,411.3 L824.0,411.1 L825.3,411.0 L826.6,410.9 L827.8,410.8 L829.0,410.7 L830.1,410.6 L831.1,410.5 L831.9,410.5 L832.6,410.4 L833.2,410.4 L833.9,410.4 L834.5,410.3 L835.1,410.3 L835.8,410.3 L836.7,410.3 L837.6,410.3 L838.8,410.3 L840.2,410.2 L841.7,410.2 L843.5,410.2 L845.4,410.2 L847.4,410.2 L849.6,410.2 L851.8,410.3 L854.0,410.3 L856.3,410.3 L858.6,410.3 L860.9,410.4 L863.1,410.4 L865.2,410.4 L867.3,410.5 L869.4,410.6 L871.5,410.6 L873.6,410.7 L875.7,410.8 L877.8,410.9 L879.8,411.0 L881.9,411.1 L884.0,411.2 L886.1,411.3 L888.2,411.5 L890.3,411.6 L892.4,411.8 L894.6,412.0 L896.9,412.3 L899.1,412.5 L901.4,412.8 L903.7,413.0 L905.9,413.3 L908.0,413.5 L910.1,413.8 L912.0,414.0 L913.8,414.2 L915.4,414.3 L916.8,414.5 L918.1,414.6 L919.3,414.7 L920.3,414.8 L921.2,414.8 L922.0,414.9 L922.8,414.9 L923.6,415.0 L924.4,415.0 L925.2,415.0 L926.1,415.1 L927.0,415.1 L927.0,414.9 L926.1,414.7 L925.3,414.5 L924.5,414.4 L923.7,414.2 L922.9,414.1 L922.2,414.0 L921.3,413.8 L920.4,413.6 L919.4,413.5 L918.3,413.3 L917.0,413.1 L915.6,412.9 L914.0,412.6 L912.2,412.3 L910.3,412.0 L908.3,411.7 L906.1,411.4 L903.9,411.0 L901.7,410.7 L899.4,410.3 L897.1,410.0 L894.9,409.7 L892.7,409.4 L890.5,409.2 L888.4,408.9 L886.3,408.7 L884.2,408.5 L882.1,408.3 L880.0,408.1 L877.9,407.9 L875.9,407.7 L873.8,407.6 L871.7,407.4 L869.6,407.2 L867.5,407.1 L865.4,407.0 L863.2,406.8 L861.0,406.7 L858.7,406.6 L856.4,406.4 L854.1,406.3 L851.9,406.2 L849.6,406.1 L847.5,406.1 L845.5,406.0 L843.6,405.9 L841.8,405.8 L840.2,405.8 L838.9,405.7 L837.7,405.6 L836.8,405.6 L835.9,405.5 L835.2,405.5 L834.5,405.5 L833.8,405.4 L833.2,405.4 L832.5,405.4 L831.7,405.4 L830.9,405.4 L829.9,405.4 L828.8,405.4 L827.6,405.4 L826.3,405.4 L825.0,405.4 L823.7,405.5 L822.3,405.5 L821.0,405.5 L819.6,405.6 L818.3,405.6 L817.0,405.7 L815.8,405.7 L814.7,405.8 L813.7,405.9 L812.7,406.0 L811.8,406.1 L810.9,406.3 L810.1,406.4 L809.3,406.6 L808.5,406.7 L807.7,406.9 L807.0,407.0 L806.2,407.2 L805.5,407.3 L804.7,407.4 L803.9,407.5 L803.1,407.7 L802.3,407.8 L801.5,407.9 L800.8,408.0 L800.0,408.1 L799.2,408.2 L798.4,408.3 L797.5,408.4 L796.7,408.5 L795.7,408.5 L794.7,408.6 L793.7,408.7 L792.8,408.7 L791.7,408.7 L790.7,408.7 L789.6,408.7 L788.4,408.7 L787.2,408.7 L785.9,408.7 L784.6,408.8 L783.1,408.9 L781.6,409.0 L779.9,409.1 L778.2,409.3 L776.3,409.5 L774.3,409.7 L772.2,410.0 L770.1,410.3 L767.9,410.6 L765.6,410.9 L763.4,411.2 L761.1,411.5 L758.8,411.9 L756.6,412.3 L754.4,412.7 L752.3,413.1 L750.1,413.6 L747.8,414.0 L745.6,414.5 L743.3,415.0 L741.1,415.6 L738.9,416.1 L736.7,416.6 L734.6,417.2 L732.6,417.7 L730.7,418.2 L729.0,418.7 L727.3,419.2 L725.7,419.7 L724.3,420.2 L722.9,420.7 L721.6,421.2 L720.4,421.7 L719.2,422.1 L718.1,422.6 L716.9,423.1 L715.8,423.5 L714.7,424.0 L713.5,424.5 L712.2,425.0 L710.9,425.5 L709.6,426.1 L708.3,426.6 L707.0,427.1 L705.7,427.7 L704.5,428.2 L703.2,428.7 L702.0,429.2 L700.8,429.7 L699.7,430.1 L698.5,430.5 L697.4,430.9 L696.3,431.3 L695.2,431.7 L694.3,432.1 L693.3,432.4 L692.4,432.7 L691.6,433.0 L690.7,433.2 L689.9,433.4 L689.0,433.6 L688.0,433.7 L687.0,433.8 L685.8,433.9 L684.6,433.9 L683.4,433.9 L682.0,433.9 L680.6,433.8 L679.1,433.7 L677.7,433.6 L676.1,433.4 L674.6,433.3 L673.0,433.1 L671.4,432.9 L669.8,432.8 L668.2,432.6 L666.7,432.4 L665.1,432.2 L663.4,432.0 L661.8,431.8 L660.2,431.6 L658.5,431.3 L656.9,431.1 L655.2,430.8 L653.6,430.6 L651.9,430.3 L650.3,430.0 L648.7,429.7 L647.0,429.5 L645.4,429.2 L643.8,428.9 L642.2,428.6 L640.5,428.2 L638.9,427.9 L637.3,427.6 L635.6,427.2 L634.0,426.9 L632.4,426.5 L630.7,426.2 L629.1,425.8 L627.5,425.4 L625.8,425.0 L624.2,424.6 L622.6,424.2 L620.9,423.8 L619.3,423.4 L617.7,423.0 L616.1,422.5 L614.5,422.1 L612.8,421.6 L611.2,421.1 L609.6,420.6 L608.0,420.1 L606.3,419.6 L604.7,419.1 L603.1,418.6 L601.5,418.0 L599.9,417.5 L598.3,416.9 L596.7,416.3 L595.1,415.7 L593.5,415.1 L591.9,414.4 L590.3,413.7 L588.7,413.0 L587.0,412.1 L585.3,411.3 L583.6,410.4 L581.9,409.5 L580.2,408.6 L578.6,407.7 L576.9,406.8 L575.4,406.0 L573.8,405.2 L572.4,404.4 L571.1,403.7 L569.8,403.1 L568.6,402.5 L567.5,401.9 L566.5,401.4 L565.5,400.9 L564.5,400.4 L563.5,399.9 L562.6,399.4 L561.7,398.9 L560.7,398.4 L559.8,397.9 L558.8,397.3 L557.8,396.8 L556.8,396.3 L555.8,395.8 L554.9,395.3 L554.0,394.8 L553.1,394.3 L552.3,393.8 L551.5,393.4 L550.7,392.9 L550.0,392.4 L549.3,392.0 L548.7,391.6 L548.1,391.1 L547.6,390.7 L547.0,390.2 L546.4,389.7 L545.9,389.2 L545.3,388.7 L544.7,388.1 L544.1,387.5 L543.4,386.9 L542.7,386.3 L542.1,385.7Z"/>
<path d="M775.6,414.9 L776.3,414.8 L776.9,414.7 L777.6,414.6 L778.2,414.5 L778.9,414.4 L779.5,414.3 L780.2,414.1 L780.9,414.0 L781.6,413.9 L782.4,413.7 L783.2,413.5 L784.0,413.3 L784.8,413.1 L785.7,412.8 L786.5,412.5 L787.4,412.3 L788.3,412.0 L789.2,411.7 L790.1,411.4 L791.0,411.1 L791.9,410.8 L792.7,410.5 L793.5,410.3 L794.3,410.0 L795.1,409.8 L795.9,409.6 L796.6,409.4 L797.4,409.2 L798.1,409.0 L798.9,408.8 L799.7,408.6 L800.5,408.4 L801.3,408.2 L802.2,407.9 L803.1,407.7 L804.0,407.4 L805.0,407.1 L805.9,406.8 L806.9,406.5 L807.9,406.2 L809.0,405.9 L810.0,405.5 L811.1,405.1 L812.2,404.7 L813.4,404.3 L814.5,403.9 L815.7,403.4 L816.9,402.9 L818.1,402.4 L819.3,401.8 L820.5,401.2 L821.6,400.6 L822.8,399.9 L823.9,399.3 L825.1,398.7 L826.3,398.0 L827.5,397.4 L828.8,396.7 L830.2,396.0 L831.6,395.4 L833.2,394.7 L834.9,394.0 L836.6,393.2 L838.4,392.4 L840.2,391.7 L842.1,390.9 L844.0,390.1 L846.0,389.4 L847.9,388.6 L849.8,387.9 L851.8,387.2 L853.7,386.6 L855.7,385.9 L857.6,385.3 L859.6,384.7 L861.7,384.1 L863.7,383.6 L865.8,383.0 L867.9,382.5 L870.0,382.0 L872.0,381.5 L874.1,381.0 L876.2,380.5 L878.3,380.1 L880.3,379.6 L882.5,379.2 L884.7,378.8 L886.9,378.5 L889.1,378.1 L891.2,377.8 L893.4,377.5 L895.5,377.1 L897.6,376.9 L899.5,376.6 L901.4,376.3 L903.1,376.1 L904.7,375.9 L906.1,375.7 L907.5,375.5 L908.7,375.4 L909.9,375.2 L911.0,375.1 L912.2,375.0 L913.3,374.9 L914.4,374.8 L915.6,374.7 L916.8,374.6 L918.1,374.5 L919.4,374.4 L920.8,374.3 L922.2,374.2 L923.6,374.1 L925.1,374.0 L926.5,373.9 L928.0,373.8 L929.4,373.7 L930.9,373.6 L932.3,373.6 L933.7,373.5 L935.0,373.4 L936.3,373.3 L937.6,373.3 L938.9,373.2 L940.1,373.1 L941.4,373.1 L942.6,373.0 L943.8,373.0 L945.1,372.9 L946.3,372.9 L947.5,372.9 L948.8,372.8 L950.0,372.7 L950.0,372.5 L948.8,372.4 L947.5,372.3 L946.3,372.3 L945.1,372.2 L943.9,372.1 L942.6,372.1 L941.4,372.0 L940.1,372.0 L938.9,371.9 L937.6,371.9 L936.3,371.8 L935.0,371.8 L933.6,371.8 L932.2,371.8 L930.8,371.8 L929.4,371.8 L927.9,371.8 L926.5,371.8 L925.0,371.8 L923.6,371.8 L922.1,371.8 L920.7,371.9 L919.3,371.9 L917.9,371.9 L916.6,371.9 L915.4,371.9 L914.3,371.9 L913.1,371.9 L912.0,371.9 L910.9,372.0 L909.7,372.0 L908.5,372.0 L907.2,372.1 L905.8,372.1 L904.3,372.2 L902.7,372.3 L901.0,372.4 L899.1,372.6 L897.1,372.7 L895.0,372.9 L892.9,373.1 L890.7,373.2 L888.5,373.4 L886.2,373.7 L884.0,373.9 L881.7,374.2 L879.5,374.4 L877.3,374.7 L875.2,375.1 L873.1,375.4 L870.9,375.7 L868.7,376.1 L866.6,376.5 L864.4,376.9 L862.3,377.3 L860.1,377.7 L858.0,378.2 L855.9,378.6 L853.8,379.1 L851.7,379.6 L849.6,380.2 L847.5,380.8 L845.4,381.4 L843.4,382.1 L841.3,382.8 L839.3,383.5 L837.3,384.1 L835.4,384.8 L833.6,385.5 L831.7,386.2 L830.0,386.8 L828.4,387.4 L826.8,388.0 L825.2,388.6 L823.8,389.2 L822.4,389.8 L821.1,390.4 L819.8,391.0 L818.6,391.5 L817.4,392.0 L816.3,392.5 L815.2,393.0 L814.1,393.4 L813.1,393.9 L812.0,394.3 L810.9,394.7 L809.9,395.2 L808.8,395.6 L807.8,396.0 L806.8,396.4 L805.8,396.7 L804.8,397.1 L803.8,397.5 L802.8,397.9 L801.9,398.2 L801.0,398.6 L800.1,399.0 L799.3,399.3 L798.5,399.6 L797.7,399.9 L796.9,400.2 L796.2,400.5 L795.4,400.8 L794.7,401.1 L793.9,401.5 L793.1,401.8 L792.3,402.2 L791.5,402.6 L790.6,403.0 L789.8,403.4 L788.9,403.9 L788.1,404.3 L787.2,404.8 L786.4,405.2 L785.6,405.7 L784.8,406.1 L784.0,406.5 L783.2,407.0 L782.5,407.3 L781.8,407.7 L781.2,408.0 L780.5,408.3 L779.9,408.6 L779.3,408.9 L778.7,409.2 L778.1,409.5 L777.5,409.7 L776.9,410.0 L776.3,410.3 L775.7,410.5 L775.0,410.8 L774.4,411.1Z"/>
<path d="M686.9,442.0 L687.9,442.0 L689.0,442.1 L690.1,442.1 L691.1,442.2 L692.2,442.2 L693.2,442.2 L694.3,442.3 L695.4,442.3 L696.5,442.4 L697.6,442.4 L698.7,442.5 L699.9,442.5 L701.0,442.5 L702.3,442.6 L703.5,442.6 L704.7,442.7 L706.0,442.7 L707.2,442.8 L708.5,442.8 L709.8,442.9 L711.0,442.9 L712.3,443.0 L713.6,443.0 L714.8,443.1 L716.1,443.1 L717.3,443.2 L718.5,443.2 L719.6,443.2 L720.7,443.3 L721.8,443.3 L723.0,443.3 L724.2,443.4 L725.4,443.5 L726.8,443.6 L728.2,443.7 L729.7,443.9 L731.4,444.1 L733.3,444.4 L735.2,444.7 L737.2,445.1 L739.3,445.4 L741.5,445.8 L743.7,446.2 L745.9,446.6 L748.2,447.0 L750.4,447.4 L752.6,447.8 L754.7,448.2 L756.9,448.6 L759.1,448.9 L761.3,449.3 L763.6,449.7 L765.8,450.1 L768.1,450.5 L770.3,450.8 L772.4,451.2 L774.5,451.6 L776.4,451.9 L778.2,452.2 L779.8,452.5 L781.3,452.8 L782.6,453.1 L783.7,453.3 L784.7,453.5 L785.5,453.7 L786.4,453.8 L787.2,454.0 L788.0,454.2 L788.8,454.4 L789.8,454.7 L790.8,455.0 L792.0,455.4 L793.4,455.8 L794.8,456.2 L796.2,456.6 L797.7,457.1 L799.2,457.6 L800.8,458.1 L802.4,458.6 L804.0,459.2 L805.7,459.8 L807.4,460.5 L809.1,461.2 L810.9,461.9 L812.8,462.7 L814.7,463.7 L816.8,464.7 L818.9,465.8 L821.1,466.9 L823.3,468.1 L825.5,469.3 L827.7,470.4 L829.9,471.6 L832.0,472.6 L834.1,473.6 L836.1,474.5 L838.0,475.4 L839.8,476.1 L841.6,476.9 L843.4,477.6 L845.2,478.3 L846.9,478.9 L848.6,479.5 L850.2,480.0 L851.8,480.6 L853.4,481.0 L854.9,481.5 L856.4,481.9 L857.9,482.3 L859.2,482.6 L860.5,482.9 L861.8,483.2 L863.0,483.4 L864.2,483.6 L865.4,483.8 L866.6,483.9 L867.8,484.0 L869.1,484.1 L870.5,484.2 L871.9,484.2 L873.4,484.3 L875.0,484.3 L876.6,484.3 L878.3,484.3 L880.0,484.3 L881.7,484.2 L883.5,484.1 L885.2,484.0 L887.0,483.9 L888.7,483.8 L890.4,483.6 L892.1,483.4 L893.8,483.2 L895.5,483.0 L897.2,482.7 L898.9,482.5 L900.6,482.2 L902.3,481.9 L904.0,481.6 L905.7,481.2 L907.4,480.8 L909.0,480.4 L910.7,479.9 L912.3,479.5 L913.9,478.9 L915.4,478.4 L917.0,477.8 L918.5,477.2 L920.0,476.5 L921.5,475.8 L923.0,475.1 L924.4,474.4 L925.9,473.7 L927.3,473.0 L928.8,472.2 L930.2,471.4 L931.7,470.7 L933.1,469.9 L934.5,469.0 L935.9,468.2 L937.3,467.3 L938.7,466.4 L940.1,465.5 L941.5,464.6 L942.9,463.8 L944.3,462.9 L945.7,462.0 L947.1,461.1 L946.9,460.9 L945.5,461.7 L944.1,462.5 L942.7,463.4 L941.2,464.2 L939.8,465.0 L938.4,465.9 L937.0,466.7 L935.6,467.5 L934.1,468.3 L932.7,469.1 L931.2,469.8 L929.8,470.6 L928.3,471.2 L926.8,471.9 L925.4,472.6 L923.9,473.2 L922.4,473.9 L920.9,474.5 L919.4,475.1 L917.9,475.6 L916.4,476.1 L914.8,476.6 L913.3,477.1 L911.7,477.5 L910.1,477.9 L908.5,478.3 L906.9,478.6 L905.3,479.0 L903.6,479.2 L901.9,479.5 L900.2,479.7 L898.6,479.9 L896.9,480.1 L895.2,480.3 L893.5,480.5 L891.9,480.6 L890.2,480.7 L888.5,480.8 L886.8,480.9 L885.1,481.0 L883.4,481.0 L881.6,481.0 L880.0,481.0 L878.3,481.0 L876.7,481.0 L875.1,480.9 L873.6,480.8 L872.1,480.8 L870.7,480.6 L869.4,480.5 L868.2,480.4 L867.0,480.2 L865.9,480.1 L864.8,479.9 L863.7,479.7 L862.6,479.4 L861.4,479.2 L860.2,478.8 L858.9,478.5 L857.6,478.1 L856.1,477.6 L854.6,477.2 L853.1,476.6 L851.6,476.1 L850.0,475.5 L848.4,474.9 L846.7,474.3 L845.0,473.6 L843.3,472.9 L841.5,472.1 L839.8,471.3 L837.9,470.5 L836.1,469.5 L834.1,468.5 L832.1,467.4 L829.9,466.3 L827.8,465.0 L825.6,463.8 L823.4,462.6 L821.3,461.4 L819.1,460.2 L817.1,459.1 L815.0,458.0 L813.1,457.1 L811.2,456.2 L809.4,455.5 L807.6,454.7 L805.9,454.0 L804.2,453.4 L802.6,452.8 L801.0,452.2 L799.4,451.7 L797.9,451.2 L796.5,450.7 L795.1,450.3 L793.8,449.8 L792.5,449.4 L791.4,449.1 L790.4,448.8 L789.5,448.5 L788.6,448.3 L787.7,448.1 L786.8,447.9 L785.9,447.7 L784.8,447.5 L783.7,447.2 L782.4,447.0 L781.0,446.7 L779.3,446.3 L777.5,445.9 L775.6,445.6 L773.5,445.2 L771.4,444.7 L769.2,444.3 L767.0,443.9 L764.7,443.5 L762.4,443.0 L760.2,442.6 L758.0,442.2 L755.9,441.8 L753.8,441.4 L751.6,441.0 L749.4,440.5 L747.2,440.1 L745.0,439.6 L742.8,439.2 L740.6,438.8 L738.4,438.4 L736.4,438.0 L734.4,437.7 L732.5,437.3 L730.7,437.1 L729.0,436.9 L727.4,436.7 L726.0,436.6 L724.6,436.4 L723.3,436.4 L722.1,436.3 L720.9,436.3 L719.8,436.3 L718.6,436.2 L717.5,436.2 L716.4,436.2 L715.2,436.1 L713.9,436.0 L712.6,436.0 L711.3,435.9 L710.1,435.9 L708.8,435.8 L707.5,435.8 L706.2,435.7 L705.0,435.7 L703.7,435.6 L702.5,435.6 L701.3,435.5 L700.1,435.5 L699.0,435.5 L697.9,435.4 L696.7,435.4 L695.7,435.3 L694.6,435.3 L693.5,435.2 L692.4,435.2 L691.4,435.2 L690.3,435.1 L689.3,435.1 L688.2,435.0 L687.1,435.0Z"/>
<path d="M682.4,439.6 L682.6,440.0 L682.9,440.5 L683.2,440.9 L683.4,441.3 L683.7,441.7 L683.9,442.1 L684.2,442.5 L684.5,442.9 L684.7,443.3 L685.0,443.7 L685.3,444.1 L685.5,444.5 L685.8,444.8 L686.0,445.2 L686.3,445.6 L686.6,445.9 L686.8,446.3 L687.1,446.7 L687.4,447.1 L687.7,447.5 L688.0,447.9 L688.3,448.4 L688.6,448.8 L689.0,449.3 L689.4,449.8 L689.7,450.3 L690.1,450.9 L690.5,451.4 L691.0,451.9 L691.4,452.5 L691.8,453.1 L692.2,453.6 L692.7,454.2 L693.1,454.8 L693.6,455.3 L694.0,455.9 L694.5,456.5 L694.9,457.0 L695.4,457.6 L695.9,458.2 L696.4,458.8 L696.9,459.4 L697.4,460.1 L697.9,460.7 L698.5,461.4 L699.0,462.0 L699.6,462.7 L700.2,463.4 L700.8,464.0 L701.4,464.6 L702.0,465.2 L702.6,465.8 L703.2,466.4 L703.8,467.0 L704.4,467.7 L705.1,468.3 L705.8,469.0 L706.5,469.6 L707.3,470.4 L708.1,471.1 L709.0,471.9 L709.9,472.7 L710.9,473.6 L711.9,474.5 L713.0,475.4 L714.1,476.3 L715.1,477.3 L716.2,478.2 L717.3,479.1 L718.4,480.0 L719.4,480.8 L720.4,481.6 L721.3,482.4 L722.2,483.1 L723.0,483.8 L723.9,484.6 L724.8,485.3 L725.6,486.1 L726.6,486.8 L727.5,487.5 L728.5,488.3 L729.6,489.0 L730.7,489.7 L731.9,490.5 L733.2,491.2 L734.4,491.8 L735.7,492.5 L737.1,493.1 L738.4,493.8 L739.8,494.4 L741.3,495.0 L742.7,495.6 L744.2,496.2 L745.8,496.8 L747.3,497.4 L748.9,498.0 L750.6,498.7 L752.3,499.3 L754.1,500.0 L755.9,500.6 L757.7,501.3 L759.6,501.9 L761.5,502.6 L763.5,503.2 L765.5,503.8 L767.4,504.4 L769.5,504.9 L771.5,505.4 L773.5,505.9 L775.6,506.3 L777.8,506.8 L779.9,507.2 L782.1,507.5 L784.3,507.9 L786.5,508.2 L788.7,508.5 L790.8,508.8 L792.9,509.1 L794.9,509.3 L796.9,509.5 L798.7,509.7 L800.5,509.8 L802.3,509.9 L804.0,510.0 L805.6,510.0 L807.3,510.0 L808.9,510.0 L810.5,510.1 L812.1,510.1 L813.7,510.1 L815.3,510.1 L817.0,510.1 L817.0,509.9 L815.4,509.7 L813.7,509.5 L812.1,509.3 L810.5,509.2 L808.9,509.1 L807.3,508.9 L805.7,508.7 L804.1,508.6 L802.4,508.3 L800.7,508.1 L799.0,507.8 L797.1,507.5 L795.2,507.1 L793.3,506.8 L791.2,506.3 L789.2,505.9 L787.0,505.4 L784.9,504.9 L782.8,504.4 L780.7,503.9 L778.5,503.3 L776.5,502.8 L774.5,502.2 L772.5,501.6 L770.6,501.0 L768.7,500.3 L766.8,499.6 L765.0,498.9 L763.1,498.2 L761.3,497.4 L759.5,496.7 L757.7,495.9 L756.0,495.2 L754.3,494.4 L752.7,493.7 L751.1,493.0 L749.5,492.2 L748.1,491.5 L746.6,490.8 L745.2,490.1 L743.9,489.4 L742.6,488.7 L741.3,488.0 L740.1,487.3 L738.9,486.6 L737.8,485.9 L736.7,485.2 L735.7,484.5 L734.7,483.8 L733.8,483.2 L733.0,482.5 L732.2,481.8 L731.4,481.1 L730.6,480.4 L729.9,479.6 L729.1,478.9 L728.3,478.1 L727.4,477.3 L726.5,476.4 L725.6,475.6 L724.7,474.7 L723.7,473.8 L722.6,472.9 L721.6,472.0 L720.6,471.0 L719.5,470.1 L718.5,469.2 L717.5,468.3 L716.5,467.4 L715.6,466.5 L714.7,465.7 L713.9,464.9 L713.2,464.2 L712.5,463.5 L711.8,462.8 L711.2,462.2 L710.6,461.6 L710.1,461.0 L709.5,460.4 L709.0,459.8 L708.5,459.2 L708.0,458.6 L707.5,458.0 L707.0,457.4 L706.5,456.8 L706.0,456.3 L705.6,455.7 L705.1,455.0 L704.7,454.4 L704.2,453.8 L703.8,453.2 L703.4,452.6 L702.9,452.0 L702.5,451.3 L702.0,450.7 L701.6,450.1 L701.1,449.5 L700.7,448.9 L700.2,448.3 L699.8,447.8 L699.3,447.2 L698.9,446.7 L698.5,446.1 L698.1,445.6 L697.7,445.1 L697.3,444.6 L697.0,444.1 L696.6,443.7 L696.3,443.2 L696.0,442.8 L695.7,442.4 L695.4,442.0 L695.2,441.6 L694.9,441.3 L694.7,440.9 L694.4,440.5 L694.1,440.1 L693.8,439.7 L693.6,439.3 L693.3,438.9 L693.0,438.5 L692.7,438.2 L692.4,437.8 L692.1,437.4 L691.8,437.0 L691.5,436.6 L691.2,436.2 L690.8,435.9 L690.5,435.5 L690.2,435.1 L689.9,434.7 L689.6,434.4Z"/>
<path d="M437.7,380.6 L436.9,380.9 L436.1,381.2 L435.3,381.5 L434.5,381.8 L433.7,382.1 L432.9,382.4 L432.1,382.6 L431.3,382.9 L430.4,383.2 L429.6,383.5 L428.8,383.8 L427.9,384.1 L427.0,384.5 L426.0,384.8 L425.1,385.1 L424.1,385.5 L423.2,385.8 L422.2,386.2 L421.2,386.5 L420.2,386.9 L419.2,387.2 L418.2,387.6 L417.2,387.9 L416.2,388.3 L415.2,388.6 L414.2,388.9 L413.1,389.3 L412.1,389.6 L411.1,390.0 L410.1,390.3 L409.0,390.6 L408.0,391.0 L406.9,391.3 L405.8,391.6 L404.7,391.9 L403.6,392.3 L402.5,392.6 L401.3,392.9 L400.1,393.2 L398.8,393.6 L397.5,393.9 L396.2,394.2 L395.0,394.5 L393.7,394.8 L392.4,395.1 L391.2,395.4 L390.0,395.7 L388.9,396.0 L387.8,396.3 L386.7,396.6 L385.6,396.8 L384.6,397.1 L383.5,397.3 L382.5,397.5 L381.5,397.8 L380.5,398.0 L379.6,398.2 L378.7,398.4 L377.8,398.6 L376.9,398.8 L376.2,399.0 L375.6,399.1 L375.1,399.3 L374.6,399.4 L374.3,399.5 L374.0,399.6 L373.6,399.6 L373.1,399.8 L372.4,399.9 L371.6,400.1 L370.5,400.3 L369.1,400.6 L367.3,400.9 L365.2,401.4 L362.9,401.9 L360.3,402.4 L357.6,402.9 L354.8,403.5 L352.0,404.0 L349.2,404.6 L346.5,405.1 L343.9,405.6 L341.5,406.0 L339.4,406.3 L337.4,406.6 L335.6,406.8 L333.9,407.0 L332.3,407.1 L330.7,407.2 L329.2,407.3 L327.7,407.4 L326.2,407.5 L324.6,407.5 L323.1,407.6 L321.4,407.7 L319.8,407.8 L318.1,407.9 L316.5,408.0 L315.0,408.1 L313.4,408.2 L311.9,408.3 L310.3,408.3 L308.6,408.4 L306.9,408.5 L305.2,408.6 L303.3,408.8 L301.4,408.9 L299.3,409.1 L297.2,409.2 L294.9,409.4 L292.5,409.6 L290.1,409.9 L287.6,410.1 L285.1,410.3 L282.5,410.6 L279.9,410.8 L277.3,411.1 L274.7,411.4 L272.1,411.7 L269.6,412.0 L267.1,412.4 L264.5,412.7 L261.9,413.1 L259.3,413.4 L256.7,413.8 L254.1,414.2 L251.6,414.6 L249.0,415.0 L246.5,415.5 L244.1,415.9 L241.7,416.3 L239.3,416.7 L237.0,417.1 L234.7,417.5 L232.5,418.0 L230.3,418.4 L228.1,418.8 L225.9,419.3 L223.8,419.7 L221.8,420.1 L219.9,420.6 L218.0,421.0 L216.2,421.4 L214.5,421.8 L212.9,422.1 L211.3,422.5 L209.9,422.8 L208.5,423.1 L207.2,423.5 L206.0,423.8 L204.8,424.1 L203.7,424.4 L202.6,424.7 L201.5,425.0 L200.5,425.3 L199.4,425.6 L198.5,425.8 L197.7,426.1 L197.0,426.3 L196.3,426.4 L195.7,426.6 L195.0,426.8 L194.3,427.0 L193.6,427.3 L192.8,427.6 L191.8,427.9 L190.6,428.3 L189.3,428.8 L187.8,429.4 L186.1,430.0 L184.3,430.6 L182.3,431.3 L180.3,432.0 L178.1,432.8 L175.9,433.6 L173.6,434.5 L171.2,435.4 L168.9,436.4 L166.5,437.5 L164.2,438.7 L161.8,439.9 L159.3,441.3 L156.8,442.7 L154.1,444.3 L151.4,445.9 L148.8,447.5 L146.1,449.1 L143.5,450.8 L141.0,452.5 L138.6,454.1 L136.4,455.8 L134.3,457.3 L132.4,458.9 L130.6,460.4 L129.0,461.9 L127.5,463.5 L126.1,465.0 L124.7,466.5 L123.4,468.0 L122.2,469.4 L120.9,470.9 L119.6,472.4 L118.3,473.9 L116.9,475.4 L117.1,475.6 L118.6,474.2 L120.1,472.9 L121.5,471.5 L122.9,470.2 L124.3,468.8 L125.8,467.4 L127.2,466.1 L128.7,464.7 L130.3,463.4 L132.0,462.0 L133.8,460.6 L135.7,459.3 L137.8,457.8 L140.1,456.4 L142.5,454.8 L145.1,453.3 L147.7,451.7 L150.4,450.1 L153.0,448.6 L155.7,447.1 L158.4,445.7 L161.0,444.3 L163.4,443.1 L165.8,441.9 L168.1,440.9 L170.4,439.9 L172.7,438.9 L175.0,438.1 L177.2,437.2 L179.4,436.5 L181.5,435.8 L183.6,435.1 L185.6,434.5 L187.4,433.9 L189.1,433.3 L190.7,432.8 L192.0,432.3 L193.2,432.0 L194.1,431.6 L194.9,431.4 L195.6,431.2 L196.2,431.0 L196.8,430.9 L197.4,430.8 L198.0,430.6 L198.8,430.4 L199.6,430.3 L200.6,430.0 L201.6,429.8 L202.7,429.5 L203.7,429.3 L204.8,429.0 L206.0,428.8 L207.1,428.5 L208.4,428.2 L209.6,428.0 L211.0,427.7 L212.4,427.4 L213.9,427.1 L215.5,426.8 L217.2,426.5 L219.0,426.2 L220.9,425.9 L222.9,425.6 L224.9,425.2 L227.0,424.9 L229.1,424.5 L231.3,424.2 L233.5,423.9 L235.7,423.5 L238.0,423.2 L240.3,422.9 L242.6,422.6 L245.0,422.3 L247.5,422.0 L250.0,421.7 L252.5,421.4 L255.1,421.1 L257.6,420.9 L260.2,420.6 L262.8,420.3 L265.4,420.1 L267.9,419.8 L270.4,419.6 L272.9,419.3 L275.5,419.1 L278.0,418.9 L280.6,418.7 L283.2,418.5 L285.8,418.3 L288.3,418.1 L290.8,417.9 L293.2,417.8 L295.5,417.6 L297.8,417.5 L299.9,417.3 L301.9,417.2 L303.8,417.2 L305.6,417.1 L307.3,417.1 L308.9,417.0 L310.5,417.0 L312.1,417.0 L313.7,417.0 L315.3,416.9 L316.9,416.9 L318.6,416.9 L320.2,416.8 L321.9,416.7 L323.4,416.7 L324.9,416.7 L326.5,416.6 L328.0,416.6 L329.6,416.6 L331.2,416.5 L332.9,416.4 L334.7,416.3 L336.6,416.1 L338.5,416.0 L340.6,415.7 L342.9,415.4 L345.5,415.0 L348.1,414.6 L350.9,414.1 L353.8,413.6 L356.7,413.1 L359.5,412.6 L362.2,412.0 L364.8,411.6 L367.1,411.1 L369.2,410.7 L370.9,410.4 L372.4,410.1 L373.5,409.9 L374.5,409.8 L375.2,409.6 L375.8,409.5 L376.3,409.4 L376.7,409.3 L377.1,409.2 L377.4,409.1 L377.8,409.0 L378.3,408.9 L379.1,408.8 L379.9,408.6 L380.8,408.5 L381.7,408.3 L382.6,408.1 L383.6,407.9 L384.6,407.8 L385.6,407.6 L386.7,407.4 L387.8,407.2 L388.9,407.0 L390.0,406.8 L391.1,406.6 L392.3,406.4 L393.5,406.1 L394.7,405.9 L396.0,405.7 L397.3,405.5 L398.6,405.2 L400.0,405.0 L401.3,404.7 L402.6,404.5 L403.9,404.2 L405.2,404.0 L406.4,403.7 L407.6,403.5 L408.8,403.2 L409.9,403.0 L411.1,402.8 L412.2,402.5 L413.3,402.3 L414.4,402.0 L415.5,401.8 L416.6,401.5 L417.7,401.3 L418.7,401.0 L419.8,400.7 L420.9,400.5 L422.0,400.2 L423.0,399.9 L424.1,399.7 L425.2,399.4 L426.2,399.1 L427.2,398.8 L428.2,398.5 L429.2,398.3 L430.2,398.0 L431.2,397.7 L432.1,397.5 L433.1,397.2 L434.0,396.9 L434.8,396.7 L435.7,396.4 L436.6,396.2 L437.4,395.9 L438.2,395.6 L439.0,395.4 L439.8,395.1 L440.6,394.9 L441.5,394.6 L442.3,394.4Z"/>
<path d="M343.1,411.4 L342.9,411.2 L342.7,411.0 L342.5,410.7 L342.3,410.5 L342.1,410.3 L341.9,410.1 L341.7,409.9 L341.6,409.6 L341.3,409.4 L341.1,409.1 L340.9,408.8 L340.6,408.5 L340.3,408.1 L340.0,407.7 L339.7,407.3 L339.3,406.9 L339.0,406.4 L338.6,405.9 L338.2,405.4 L337.8,404.9 L337.4,404.4 L337.0,403.8 L336.5,403.3 L336.1,402.8 L335.7,402.3 L335.2,401.7 L334.8,401.2 L334.4,400.6 L333.9,400.1 L333.4,399.5 L332.9,398.9 L332.5,398.4 L332.0,397.8 L331.5,397.2 L330.9,396.6 L330.4,396.1 L330.0,395.6 L329.5,395.1 L329.1,394.6 L328.7,394.1 L328.2,393.6 L327.7,393.1 L327.2,392.6 L326.7,392.1 L326.0,391.5 L325.4,390.9 L324.7,390.3 L323.9,389.7 L323.1,389.1 L322.3,388.4 L321.4,387.8 L320.5,387.2 L319.6,386.5 L318.6,385.8 L317.6,385.1 L316.5,384.4 L315.4,383.7 L314.2,382.9 L313.0,382.1 L311.7,381.3 L310.4,380.4 L309.0,379.5 L307.5,378.5 L306.0,377.5 L304.4,376.4 L302.7,375.3 L301.0,374.2 L299.1,373.0 L297.2,371.9 L295.2,370.8 L293.1,369.8 L291.0,368.8 L288.8,367.8 L286.5,366.9 L284.0,365.9 L281.6,365.0 L279.0,364.1 L276.4,363.2 L273.7,362.3 L271.1,361.5 L268.4,360.7 L265.6,359.9 L262.9,359.2 L260.3,358.5 L257.6,357.8 L254.8,357.3 L252.1,356.7 L249.3,356.2 L246.5,355.8 L243.7,355.4 L240.9,354.9 L238.1,354.5 L235.3,354.1 L232.5,353.7 L229.7,353.3 L226.9,352.9 L226.9,353.1 L229.6,353.8 L232.3,354.5 L235.1,355.1 L237.9,355.8 L240.6,356.4 L243.4,357.1 L246.1,357.7 L248.8,358.4 L251.5,359.1 L254.2,359.9 L256.8,360.7 L259.3,361.5 L261.9,362.5 L264.5,363.4 L267.0,364.4 L269.6,365.5 L272.1,366.6 L274.6,367.7 L277.1,368.8 L279.5,370.0 L281.8,371.1 L284.0,372.2 L286.2,373.3 L288.2,374.4 L290.1,375.5 L292.0,376.6 L293.7,377.7 L295.5,378.8 L297.1,380.0 L298.7,381.1 L300.3,382.2 L301.8,383.4 L303.3,384.5 L304.7,385.5 L306.1,386.5 L307.5,387.5 L308.8,388.4 L310.0,389.2 L311.1,390.0 L312.2,390.8 L313.2,391.5 L314.1,392.2 L315.0,392.9 L315.9,393.5 L316.7,394.1 L317.4,394.7 L318.2,395.3 L318.9,395.9 L319.5,396.5 L320.1,397.0 L320.6,397.4 L321.1,397.9 L321.5,398.3 L322.0,398.7 L322.4,399.1 L322.8,399.6 L323.2,400.0 L323.6,400.5 L324.1,401.0 L324.6,401.5 L325.0,402.0 L325.5,402.5 L325.9,403.0 L326.4,403.6 L326.8,404.1 L327.3,404.6 L327.7,405.2 L328.2,405.7 L328.6,406.3 L329.0,406.8 L329.5,407.3 L329.9,407.8 L330.3,408.3 L330.7,408.8 L331.1,409.3 L331.5,409.8 L331.9,410.3 L332.3,410.8 L332.7,411.3 L333.0,411.8 L333.4,412.2 L333.7,412.7 L334.1,413.1 L334.4,413.5 L334.7,413.9 L334.9,414.2 L335.2,414.5 L335.4,414.8 L335.6,415.0 L335.8,415.2 L336.0,415.5 L336.2,415.7 L336.4,415.9 L336.6,416.1 L336.7,416.3 L336.9,416.6Z"/>
<path d="M340.0,408.8 L339.9,409.3 L339.9,409.9 L339.9,410.4 L339.9,410.7 L339.9,410.9 L339.9,411.0 L339.9,410.9 L339.8,410.8 L339.8,410.8 L339.7,410.8 L339.6,410.9 L339.5,411.2 L339.2,411.7 L338.9,412.2 L338.5,412.9 L338.0,413.6 L337.5,414.3 L337.0,415.1 L336.5,415.9 L335.9,416.6 L335.4,417.4 L334.8,418.1 L334.3,418.7 L333.8,419.3 L333.4,419.8 L332.9,420.3 L332.4,420.8 L331.9,421.3 L331.4,421.8 L330.9,422.3 L330.3,422.8 L329.7,423.3 L329.1,423.9 L328.4,424.4 L327.7,425.0 L327.0,425.7 L326.2,426.3 L325.5,426.9 L324.7,427.6 L323.9,428.3 L323.1,428.9 L322.3,429.6 L321.5,430.2 L320.7,430.9 L319.8,431.6 L319.0,432.2 L318.1,432.9 L317.2,433.5 L316.3,434.1 L315.4,434.8 L314.5,435.4 L313.5,436.1 L312.5,436.8 L311.4,437.4 L310.4,438.1 L309.4,438.8 L308.3,439.4 L307.3,440.1 L306.3,440.7 L305.2,441.3 L304.3,441.9 L303.3,442.5 L302.4,443.1 L301.5,443.6 L300.5,444.1 L299.6,444.7 L298.7,445.2 L297.7,445.7 L296.7,446.3 L295.7,446.8 L294.6,447.4 L293.5,448.0 L292.4,448.7 L291.2,449.3 L290.1,449.9 L288.9,450.6 L287.7,451.3 L286.4,451.9 L285.2,452.6 L283.9,453.2 L282.6,453.9 L281.3,454.6 L279.9,455.2 L278.5,455.9 L277.1,456.6 L275.6,457.2 L274.1,457.9 L272.6,458.6 L271.1,459.2 L269.6,459.9 L268.0,460.5 L266.3,461.2 L264.6,461.9 L262.8,462.6 L260.9,463.2 L259.0,463.9 L256.9,464.6 L254.6,465.4 L252.2,466.1 L249.8,466.9 L247.2,467.7 L244.7,468.4 L242.1,469.2 L239.5,469.9 L236.9,470.6 L234.4,471.3 L232.0,471.9 L229.6,472.5 L227.4,473.1 L225.1,473.6 L223.0,474.0 L220.8,474.4 L218.7,474.8 L216.6,475.2 L214.5,475.6 L212.4,475.9 L210.3,476.3 L208.2,476.7 L206.1,477.1 L204.0,477.5 L204.0,477.7 L206.2,477.6 L208.3,477.4 L210.4,477.3 L212.6,477.1 L214.7,477.0 L216.8,476.8 L218.9,476.7 L221.1,476.5 L223.3,476.3 L225.6,476.1 L227.8,475.8 L230.2,475.5 L232.6,475.1 L235.1,474.7 L237.7,474.3 L240.4,473.8 L243.1,473.3 L245.7,472.8 L248.4,472.3 L251.0,471.8 L253.6,471.3 L256.1,470.7 L258.4,470.2 L260.6,469.7 L262.7,469.2 L264.7,468.6 L266.7,468.1 L268.5,467.5 L270.3,467.0 L272.0,466.4 L273.7,465.9 L275.3,465.3 L276.9,464.8 L278.4,464.2 L280.0,463.7 L281.5,463.1 L283.0,462.5 L284.5,462.0 L286.0,461.4 L287.4,460.8 L288.8,460.2 L290.2,459.7 L291.5,459.1 L292.8,458.5 L294.0,458.0 L295.3,457.4 L296.5,456.9 L297.7,456.4 L298.8,455.9 L299.9,455.3 L301.0,454.9 L302.1,454.4 L303.1,453.9 L304.2,453.4 L305.2,452.9 L306.2,452.4 L307.2,451.9 L308.2,451.4 L309.3,450.8 L310.4,450.3 L311.4,449.7 L312.5,449.1 L313.6,448.5 L314.8,447.9 L315.9,447.2 L317.0,446.6 L318.1,445.9 L319.3,445.3 L320.4,444.6 L321.5,443.9 L322.5,443.2 L323.6,442.5 L324.6,441.8 L325.6,441.1 L326.5,440.4 L327.5,439.6 L328.4,438.9 L329.3,438.2 L330.2,437.4 L331.1,436.7 L331.9,436.0 L332.7,435.3 L333.5,434.6 L334.2,433.9 L334.9,433.3 L335.6,432.7 L336.3,432.1 L337.0,431.4 L337.7,430.8 L338.3,430.2 L339.0,429.5 L339.6,428.8 L340.3,428.1 L340.9,427.3 L341.5,426.5 L342.2,425.7 L342.8,424.8 L343.4,423.9 L343.9,422.9 L344.5,421.9 L345.0,421.0 L345.5,420.0 L345.9,419.0 L346.4,418.1 L346.8,417.2 L347.1,416.3 L347.4,415.6 L347.7,414.8 L348.0,414.0 L348.2,413.2 L348.3,412.5 L348.4,411.7 L348.4,411.0 L348.3,410.4 L348.3,409.9 L348.2,409.5 L348.1,409.4 L348.1,409.3 L348.0,409.4 L348.0,409.2Z"/>
<path d="M199.0,428.8 L198.9,428.6 L198.9,428.6 L198.9,428.7 L198.9,428.6 L198.8,428.3 L198.6,427.8 L198.4,427.3 L198.0,426.7 L197.6,426.2 L197.2,425.6 L196.6,425.0 L196.0,424.3 L195.2,423.5 L194.4,422.7 L193.4,421.7 L192.4,420.6 L191.2,419.4 L190.0,418.2 L188.8,417.0 L187.4,415.7 L186.0,414.5 L184.6,413.2 L183.1,412.0 L181.6,410.9 L180.0,409.9 L178.4,408.8 L176.7,407.8 L175.0,406.7 L173.2,405.7 L171.4,404.7 L169.6,403.8 L167.7,402.8 L165.9,401.9 L164.1,401.0 L162.3,400.1 L160.6,399.3 L158.8,398.5 L157.1,397.7 L155.4,397.0 L153.7,396.3 L152.0,395.6 L150.3,394.9 L148.6,394.3 L147.0,393.6 L145.3,393.0 L143.6,392.5 L141.9,391.9 L140.2,391.4 L138.5,390.9 L136.8,390.5 L135.0,390.1 L133.3,389.7 L131.7,389.4 L130.0,389.1 L128.3,388.8 L126.6,388.5 L124.9,388.2 L123.2,387.9 L121.5,387.6 L119.8,387.3 L119.8,387.5 L121.4,388.0 L123.1,388.5 L124.7,389.0 L126.4,389.5 L128.0,389.9 L129.7,390.4 L131.3,390.9 L132.9,391.4 L134.6,391.9 L136.2,392.4 L137.8,393.0 L139.4,393.6 L141.1,394.2 L142.7,394.9 L144.3,395.6 L145.9,396.3 L147.5,397.0 L149.1,397.7 L150.7,398.5 L152.4,399.3 L154.0,400.1 L155.6,400.9 L157.2,401.8 L158.8,402.7 L160.5,403.6 L162.2,404.6 L163.9,405.6 L165.7,406.6 L167.4,407.6 L169.1,408.6 L170.8,409.7 L172.5,410.8 L174.1,411.9 L175.6,412.9 L177.1,414.0 L178.4,415.1 L179.7,416.2 L181.0,417.3 L182.2,418.5 L183.4,419.8 L184.6,421.0 L185.7,422.3 L186.8,423.5 L187.8,424.7 L188.7,425.9 L189.6,426.9 L190.4,427.9 L191.0,428.7 L191.6,429.3 L191.9,429.8 L192.2,430.2 L192.3,430.4 L192.3,430.4 L192.3,430.4 L192.2,430.4 L192.3,430.5 L192.3,430.8 L192.5,431.3 L192.7,431.8 L193.0,432.2Z"/>
<path d="M191.4,426.0 L191.6,426.6 L191.8,427.3 L192.0,427.9 L192.1,428.3 L192.2,428.7 L192.3,429.0 L192.4,429.3 L192.4,429.6 L192.4,429.8 L192.4,430.1 L192.4,430.4 L192.3,430.9 L192.2,431.6 L192.1,432.4 L192.0,433.2 L191.8,434.2 L191.6,435.1 L191.4,436.2 L191.2,437.2 L190.9,438.3 L190.6,439.4 L190.3,440.5 L190.0,441.6 L189.7,442.7 L189.3,443.9 L188.9,445.1 L188.6,446.3 L188.1,447.6 L187.7,448.8 L187.3,450.1 L186.8,451.4 L186.3,452.7 L185.7,453.9 L185.2,455.2 L184.6,456.4 L183.9,457.7 L183.2,458.9 L182.4,460.2 L181.6,461.5 L180.8,462.9 L179.9,464.2 L179.0,465.5 L178.0,466.8 L177.0,468.1 L176.0,469.4 L175.0,470.7 L173.9,472.0 L172.9,473.2 L171.8,474.4 L170.7,475.6 L169.5,476.8 L168.4,478.0 L167.2,479.1 L165.9,480.3 L164.6,481.4 L163.4,482.6 L162.0,483.8 L160.7,484.9 L159.3,486.1 L157.9,487.3 L156.4,488.6 L154.9,489.8 L153.3,491.1 L151.7,492.4 L150.1,493.7 L148.4,495.0 L146.8,496.3 L145.1,497.6 L143.5,498.8 L141.9,500.0 L140.4,501.1 L138.9,502.2 L137.5,503.2 L136.1,504.2 L134.7,505.1 L133.3,505.9 L132.0,506.8 L130.7,507.6 L129.4,508.4 L128.1,509.2 L126.7,510.0 L125.4,510.8 L124.1,511.6 L122.7,512.5 L122.9,512.7 L124.3,512.1 L125.8,511.6 L127.2,511.0 L128.7,510.4 L130.1,509.9 L131.6,509.3 L133.0,508.8 L134.5,508.1 L136.0,507.5 L137.5,506.8 L139.1,506.0 L140.7,505.2 L142.4,504.3 L144.1,503.3 L145.8,502.3 L147.6,501.2 L149.4,500.1 L151.2,499.0 L153.0,497.8 L154.8,496.7 L156.6,495.5 L158.3,494.3 L159.9,493.2 L161.5,492.1 L163.1,491.0 L164.6,489.9 L166.1,488.8 L167.5,487.7 L169.0,486.6 L170.4,485.5 L171.8,484.3 L173.1,483.2 L174.5,482.0 L175.8,480.8 L177.1,479.6 L178.3,478.4 L179.6,477.1 L180.8,475.8 L182.0,474.4 L183.2,473.1 L184.3,471.7 L185.4,470.3 L186.5,468.9 L187.5,467.5 L188.5,466.1 L189.5,464.7 L190.4,463.3 L191.3,461.9 L192.1,460.5 L192.9,459.1 L193.6,457.6 L194.3,456.2 L195.0,454.7 L195.5,453.3 L196.1,451.9 L196.6,450.5 L197.1,449.2 L197.5,447.8 L197.9,446.6 L198.3,445.3 L198.7,444.0 L199.0,442.7 L199.3,441.4 L199.5,440.1 L199.7,438.8 L199.9,437.6 L200.1,436.4 L200.2,435.3 L200.2,434.1 L200.3,433.1 L200.3,432.1 L200.3,431.1 L200.2,430.1 L200.1,429.1 L199.9,428.2 L199.6,427.4 L199.3,426.7 L199.0,426.1 L198.7,425.6 L198.4,425.2 L198.1,424.8 L197.9,424.5 L197.8,424.3 L197.6,424.0Z"/>
</g>
<path fill="#990033" d="M418.33,299.62 A33.2,33.2 0 0 1 471.02,274.24 A52.8,52.8 0 0 1 567.13,292.91 A52.7,52.7 0 1 1 547.85,393.09 A42.3,42.3 0 0 1 485.97,405.68 A50.1,50.1 0 0 1 415.70,374.37 A37.4,37.4 0 0 1 418.33,299.62Z"/>

<rect x="232.2" y="25.6" width="558.8" height="46.1" fill="#990033"/>
<text y="60.3" font-size="29" font-weight="bold" fill="#fff" style="filter:opacity(0.999)" lengthAdjust="spacingAndGlyphs"><tspan x="243.5" textLength="74.5" lengthAdjust="spacingAndGlyphs">Mapa</tspan> <tspan x="328.4" textLength="93.5" lengthAdjust="spacingAndGlyphs">Mental</tspan> <tspan x="429.6" textLength="32" lengthAdjust="spacingAndGlyphs">da</tspan> <tspan x="469.4" textLength="176.6" lengthAdjust="spacingAndGlyphs">Comunicação</tspan> <tspan x="653.2" textLength="126.7" lengthAdjust="spacingAndGlyphs">Integrada</tspan></text>
<text font-size="29" font-weight="bold" fill="#FFC000" style="filter:opacity(0.999)"><tspan x="415.6" y="332.2" textLength="178" lengthAdjust="spacingAndGlyphs">Comunicação</tspan> <tspan x="445.4" y="369.6" textLength="125.2" lengthAdjust="spacingAndGlyphs">Integrada</tspan></text>
<rect x="1022.75" y="0" width="1.25" height="576" fill="#3a3a3a"/>
<path d="M947.9,483.7L929.5,492.5M947.9,483.7L957.4,491.3M947.9,483.7L940.3,503.3M929.5,492.5L931.0,503.9M929.5,492.5L940.3,503.3M931.0,503.9L940.3,503.3M931.0,503.9L934.4,507.7M940.3,503.3L934.4,507.7M940.3,503.3L957.4,491.3M940.3,503.3L944.3,512.9M934.4,507.7L933.7,512.4M934.4,507.7L944.3,512.9M933.7,512.4L944.3,512.9M933.7,512.4L947.0,523.5M944.3,512.9L947.0,523.5M944.3,512.9L949.9,515.5M944.3,512.9L957.4,491.3M949.9,515.5L957.4,491.3M949.9,515.5L947.0,523.5M949.9,515.5L954.1,531.2M949.9,515.5L959.5,528.1M949.9,515.5L962.3,521.2M949.9,515.5L969.2,503.9M957.4,491.3L969.5,483.9M957.4,491.3L969.2,503.9M957.4,491.3L975.7,501.8M969.5,483.9L979.1,489.2M969.5,483.9L975.7,501.8M979.1,489.2L975.7,501.8M979.1,489.2L983.7,501.0M983.7,501.0L975.7,501.8M983.7,501.0L977.5,515.2M975.7,501.8L977.5,515.2M975.7,501.8L969.2,503.9M969.2,503.9L977.5,515.2M969.2,503.9L962.3,521.2M977.5,515.2L962.3,521.2M977.5,515.2L959.5,528.1M962.3,521.2L959.5,528.1M959.5,528.1L954.1,531.2M947.0,523.5L954.1,531.2" fill="none" stroke="#7a2e52" stroke-width="0.5" stroke-opacity="0.72"/><g fill="#6a1a40"><circle cx="947.9" cy="483.7" r="1.1"/><circle cx="929.5" cy="492.5" r="1.1"/><circle cx="969.5" cy="483.9" r="1.1"/><circle cx="979.1" cy="489.2" r="1.1"/><circle cx="957.4" cy="491.3" r="1.1"/><circle cx="983.7" cy="501.0" r="1.1"/><circle cx="931.0" cy="503.9" r="1.1"/><circle cx="940.3" cy="503.3" r="1.1"/><circle cx="934.4" cy="507.7" r="1.1"/><circle cx="933.7" cy="512.4" r="1.1"/><circle cx="944.3" cy="512.9" r="1.1"/><circle cx="949.9" cy="515.5" r="1.1"/><circle cx="969.2" cy="503.9" r="1.1"/><circle cx="975.7" cy="501.8" r="1.1"/><circle cx="977.5" cy="515.2" r="1.1"/><circle cx="962.3" cy="521.2" r="1.1"/><circle cx="947.0" cy="523.5" r="1.1"/><circle cx="959.5" cy="528.1" r="1.1"/><circle cx="954.1" cy="531.2" r="1.1"/></g><g fill="#651a3d" stroke="#651a3d" style="filter:opacity(0.97)"><text x="901.2" y="546.2" font-size="12.2" stroke-width="0.3" textLength="101.6" lengthAdjust="spacingAndGlyphs">COMUNICAÇÃO</text><text x="901.2" y="563.7" font-size="16.2" stroke-width="0.55" textLength="100.6" lengthAdjust="spacingAndGlyphs">INTEGRADA</text></g>
<g style="filter:opacity(0.8)">
<text transform="translate(129.9 106.9) rotate(16.02)" font-size="13" fill="#44546A" font-weight="normal" textLength="100.0" lengthAdjust="spacingAndGlyphs">Comunicação com</text>
<text transform="translate(140.4 129.0) rotate(15.37)" font-size="13" fill="#44546A" font-weight="normal" textLength="67.9" lengthAdjust="spacingAndGlyphs">funcionários</text>
<text transform="translate(56.6 145.6) rotate(15.05)" font-size="13" fill="#44546A" font-weight="normal" textLength="73.9" lengthAdjust="spacingAndGlyphs">Comunicação</text>
<text transform="translate(55.5 159.2) rotate(16.24)" font-size="13" fill="#44546A" font-weight="normal" textLength="67.6" lengthAdjust="spacingAndGlyphs">Institucional</text>
<text transform="translate(61.5 221.2) rotate(15.01)" font-size="13" fill="#44546A" font-weight="normal" textLength="62.9" lengthAdjust="spacingAndGlyphs">Publicidade</text>
<text transform="translate(30.6 279.2)" font-size="13" fill="#44546A" font-weight="normal" textLength="95.5" lengthAdjust="spacingAndGlyphs">Relações Públicas</text>
<text transform="translate(403.4 163.9) rotate(7.63)" font-size="13" fill="#44546A" font-weight="normal" textLength="74.6" lengthAdjust="spacingAndGlyphs">Comunicação</text>
<text transform="translate(399.0 178.2) rotate(7.60)" font-size="13" fill="#44546A" font-weight="normal" textLength="79.4" lengthAdjust="spacingAndGlyphs">Administrativa</text>
<text transform="translate(809.1 120.0) rotate(-11.01)" font-size="13" fill="#44546A" font-weight="normal" textLength="48.7" lengthAdjust="spacingAndGlyphs">Presença</text>
<text transform="translate(818.8 133.5) rotate(-11.21)" font-size="13" fill="#44546A" font-weight="normal" textLength="34.5" lengthAdjust="spacingAndGlyphs">Digital</text>
<text transform="translate(802.5 173.2) rotate(-4.00)" font-size="13" fill="#44546A" font-weight="normal" textLength="113.3" lengthAdjust="spacingAndGlyphs">Relacionamento com</text>
<text transform="translate(836.7 188.8) rotate(-3.91)" font-size="13" fill="#44546A" font-weight="normal" textLength="49.8" lengthAdjust="spacingAndGlyphs">imprensa</text>
<text transform="translate(843.5 246.9)" font-size="13" fill="#44546A" font-weight="normal" textLength="83.6" lengthAdjust="spacingAndGlyphs">Influenciadores</text>
<text transform="translate(851.2 310.5)" font-size="13" fill="#44546A" font-weight="normal" textLength="71.2" lengthAdjust="spacingAndGlyphs">Redes sociais</text>
<text transform="translate(844.4 353.5)" font-size="13" fill="#44546A" font-weight="normal" textLength="49.9" lengthAdjust="spacingAndGlyphs">Branding</text>
<text transform="translate(729.3 344.6) rotate(18.27)" font-size="13" fill="#44546A" font-weight="normal" textLength="54.2" lengthAdjust="spacingAndGlyphs">Gestão da</text>
<text transform="translate(721.4 361.2) rotate(17.62)" font-size="13" fill="#44546A" font-weight="normal" textLength="58.1" lengthAdjust="spacingAndGlyphs">Reputação</text>
<text transform="translate(894.5 386.7)" font-size="13" fill="#3b3b3b" font-weight="normal" textLength="87.9" lengthAdjust="spacingAndGlyphs">Mapeamento de</text>
<text transform="translate(922.6 402.3)" font-size="13" fill="#3b3b3b" font-weight="normal" textLength="31.3" lengthAdjust="spacingAndGlyphs">riscos</text>
<text transform="translate(836.9 437.8)" font-size="13" fill="#44546A" font-weight="normal" textLength="87.1" lengthAdjust="spacingAndGlyphs">Atendimento ao</text>
<text transform="translate(845.5 452.5)" font-size="13" fill="#44546A" font-weight="normal" textLength="69.5" lengthAdjust="spacingAndGlyphs">cliente - SAC</text>
<text transform="translate(755.7 466.2) rotate(18.24)" font-size="13" fill="#44546A" font-weight="normal" textLength="38.0" lengthAdjust="spacingAndGlyphs">Gestão</text>
<text transform="translate(733.8 474.0) rotate(19.28)" font-size="13" fill="#44546A" font-weight="normal" textLength="72.7" lengthAdjust="spacingAndGlyphs">Omnichannel</text>
<text transform="translate(158.6 377.9) rotate(18.58)" font-size="13" fill="#44546A" font-weight="normal" textLength="38.0" lengthAdjust="spacingAndGlyphs">Vendas</text>
<text transform="translate(249.8 381.8) rotate(16.91)" font-size="13" fill="#44546A" font-weight="normal" textLength="42.6" lengthAdjust="spacingAndGlyphs">Eventos</text>
<text transform="translate(95.7 463.0) rotate(-24.39)" font-size="13" fill="#44546A" font-weight="normal" textLength="64.9" lengthAdjust="spacingAndGlyphs">Propaganda</text>
<text transform="translate(136.0 532.0) rotate(-30.65)" font-size="13" fill="#44546A" font-weight="normal" textLength="62.8" lengthAdjust="spacingAndGlyphs">Ecommerce</text>
<text transform="translate(274.7 478.3) rotate(-23.49)" font-size="13" fill="#44546A" font-weight="normal" textLength="55.0" lengthAdjust="spacingAndGlyphs">Marketing</text>
<text transform="translate(296.6 488.6) rotate(-25.05)" font-size="13" fill="#44546A" font-weight="normal" textLength="22.0" lengthAdjust="spacingAndGlyphs">360°</text>
</g>
</svg></body></html>
